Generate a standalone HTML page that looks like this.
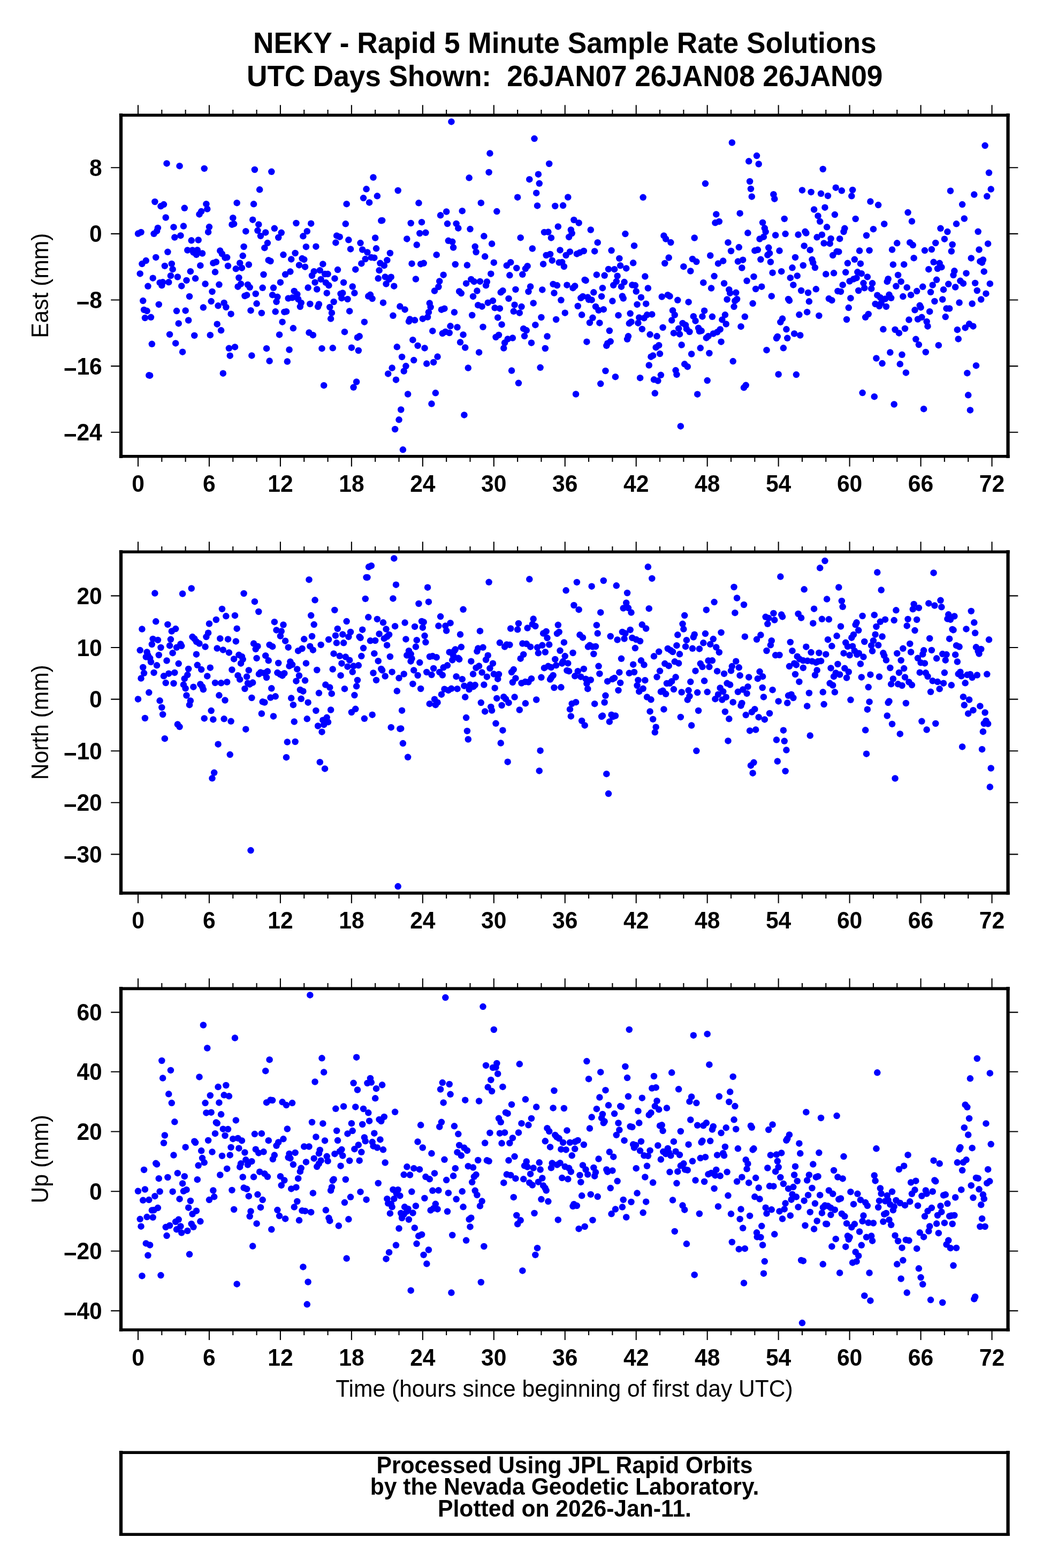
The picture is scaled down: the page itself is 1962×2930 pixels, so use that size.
<!DOCTYPE html>
<html lang="en">
<head>
<meta charset="utf-8">
<title>NEKY - Rapid 5 Minute Sample Rate Solutions</title>
<style>
html,body{margin:0;padding:0;background:#fff;}
svg{display:block;}
text{font-family:"Liberation Sans",sans-serif;fill:#000;}
.b{font-weight:bold;}
.fv{fill:none;stroke:#000;stroke-width:6.25;}
.fh{fill:none;stroke:#000;stroke-width:5.6;}
.tk{stroke:#000;stroke-width:2.1;stroke-linecap:butt;fill:none;}
.d circle{fill:#0000ff;}
</style>
</head>
<body>
<svg width="1962" height="2930" viewBox="0 0 1962 2930">
<rect x="0" y="0" width="1962" height="2930" fill="#ffffff"/>
<text class="b" font-size="53.25" text-anchor="middle" transform="translate(1055.25 99) scale(1 1.03)">NEKY - Rapid 5 Minute Sample Rate Solutions</text>
<text class="b" font-size="53.25" text-anchor="middle" transform="translate(1055.25 160.8) scale(1 1.03)" xml:space="preserve" textLength="1188.4" lengthAdjust="spacing">UTC Days Shown:  26JAN07 26JAN08 26JAN09</text>
<g id="panel1">
<path class="tk" d="M258 215.2V196.2M258 852.75V871.8M302.32 215.2V205M302.32 852.75V863M346.64 215.2V205M346.64 852.75V863M390.96 215.2V196.2M390.96 852.75V871.8M435.28 215.2V205M435.28 852.75V863M479.6 215.2V205M479.6 852.75V863M523.92 215.2V196.2M523.92 852.75V871.8M568.24 215.2V205M568.24 852.75V863M612.56 215.2V205M612.56 852.75V863M656.88 215.2V196.2M656.88 852.75V871.8M701.19 215.2V205M701.19 852.75V863M745.51 215.2V205M745.51 852.75V863M789.83 215.2V196.2M789.83 852.75V871.8M834.15 215.2V205M834.15 852.75V863M878.47 215.2V205M878.47 852.75V863M922.79 215.2V196.2M922.79 852.75V871.8M967.11 215.2V205M967.11 852.75V863M1011.43 215.2V205M1011.43 852.75V863M1055.75 215.2V196.2M1055.75 852.75V871.8M1100.07 215.2V205M1100.07 852.75V863M1144.39 215.2V205M1144.39 852.75V863M1188.71 215.2V196.2M1188.71 852.75V871.8M1233.03 215.2V205M1233.03 852.75V863M1277.35 215.2V205M1277.35 852.75V863M1321.67 215.2V196.2M1321.67 852.75V871.8M1365.99 215.2V205M1365.99 852.75V863M1410.31 215.2V205M1410.31 852.75V863M1454.62 215.2V196.2M1454.62 852.75V871.8M1498.94 215.2V205M1498.94 852.75V863M1543.26 215.2V205M1543.26 852.75V863M1587.58 215.2V196.2M1587.58 852.75V871.8M1631.9 215.2V205M1631.9 852.75V863M1676.22 215.2V205M1676.22 852.75V863M1720.54 215.2V196.2M1720.54 852.75V871.8M1764.86 215.2V205M1764.86 852.75V863M1809.18 215.2V205M1809.18 852.75V863M1853.5 215.2V196.2M1853.5 852.75V871.8M226 313.2h-18.8M1883.5 313.2h18.8M226 436.85h-18.8M1883.5 436.85h18.8M226 560.5h-18.8M1883.5 560.5h18.8M226 684.1h-18.8M1883.5 684.1h18.8M226 807.8h-18.8M1883.5 807.8h18.8"/>
<g class="d">
<circle cx="258" cy="436.6" r="6.25"/><circle cx="261.69" cy="511.4" r="6.25"/><circle cx="263.54" cy="433.9" r="6.25"/><circle cx="265.39" cy="493.1" r="6.25"/><circle cx="267.23" cy="562.1" r="6.25"/><circle cx="269.08" cy="578.9" r="6.25"/>
<circle cx="270.93" cy="594.1" r="6.25"/><circle cx="272.77" cy="487.1" r="6.25"/><circle cx="274.62" cy="581.1" r="6.25"/><circle cx="276.47" cy="534.8" r="6.25"/><circle cx="278.31" cy="701.3" r="6.25"/><circle cx="280.16" cy="701.7" r="6.25"/>
<circle cx="282.01" cy="592.8" r="6.25"/><circle cx="283.85" cy="642.8" r="6.25"/><circle cx="285.7" cy="519.7" r="6.25"/><circle cx="287.55" cy="436.8" r="6.25"/><circle cx="289.39" cy="377" r="6.25"/><circle cx="291.24" cy="480.9" r="6.25"/>
<circle cx="293.09" cy="431.7" r="6.25"/><circle cx="294.93" cy="425.9" r="6.25"/><circle cx="296.78" cy="568.9" r="6.25"/><circle cx="298.63" cy="528.2" r="6.25"/><circle cx="300.47" cy="385.3" r="6.25"/><circle cx="302.32" cy="533.3" r="6.25"/>
<circle cx="304.17" cy="527.3" r="6.25"/><circle cx="306.01" cy="382.1" r="6.25"/><circle cx="307.86" cy="496.9" r="6.25"/><circle cx="309.71" cy="406.5" r="6.25"/><circle cx="311.55" cy="305.4" r="6.25"/><circle cx="313.4" cy="470.8" r="6.25"/>
<circle cx="315.25" cy="527.3" r="6.25"/><circle cx="317.09" cy="624.9" r="6.25"/><circle cx="318.94" cy="515.2" r="6.25"/><circle cx="320.79" cy="492.9" r="6.25"/><circle cx="322.63" cy="503.2" r="6.25"/><circle cx="324.48" cy="424.4" r="6.25"/>
<circle cx="326.33" cy="443.6" r="6.25"/><circle cx="328.17" cy="641.4" r="6.25"/><circle cx="330.02" cy="581.1" r="6.25"/><circle cx="331.87" cy="517.5" r="6.25"/><circle cx="333.71" cy="604.4" r="6.25"/><circle cx="335.56" cy="310.2" r="6.25"/>
<circle cx="337.41" cy="440.2" r="6.25"/><circle cx="339.25" cy="534.4" r="6.25"/><circle cx="341.1" cy="657.7" r="6.25"/><circle cx="342.95" cy="422.6" r="6.25"/><circle cx="344.79" cy="388.8" r="6.25"/><circle cx="346.64" cy="580.4" r="6.25"/>
<circle cx="348.49" cy="523.9" r="6.25"/><circle cx="350.33" cy="467.5" r="6.25"/><circle cx="352.18" cy="598.5" r="6.25"/><circle cx="354.03" cy="553.9" r="6.25"/><circle cx="355.87" cy="507.2" r="6.25"/><circle cx="357.72" cy="449.3" r="6.25"/>
<circle cx="359.57" cy="467.5" r="6.25"/><circle cx="361.41" cy="471.7" r="6.25"/><circle cx="363.26" cy="626.9" r="6.25"/><circle cx="365.11" cy="520.3" r="6.25"/><circle cx="366.95" cy="475.9" r="6.25"/><circle cx="368.8" cy="467.2" r="6.25"/>
<circle cx="370.65" cy="448.5" r="6.25"/><circle cx="372.49" cy="400.4" r="6.25"/><circle cx="374.34" cy="496.2" r="6.25"/><circle cx="376.19" cy="395.1" r="6.25"/><circle cx="378.03" cy="473.5" r="6.25"/><circle cx="379.88" cy="574.6" r="6.25"/>
<circle cx="381.73" cy="314.9" r="6.25"/><circle cx="383.57" cy="530.6" r="6.25"/><circle cx="385.42" cy="381.2" r="6.25"/><circle cx="387.27" cy="390.6" r="6.25"/><circle cx="389.11" cy="433.7" r="6.25"/><circle cx="390.96" cy="424.1" r="6.25"/>
<circle cx="392.8" cy="626.2" r="6.25"/><circle cx="394.65" cy="563.1" r="6.25"/><circle cx="396.5" cy="544.9" r="6.25"/><circle cx="398.34" cy="491.6" r="6.25"/><circle cx="402.04" cy="508.3" r="6.25"/><circle cx="403.88" cy="489.6" r="6.25"/>
<circle cx="405.73" cy="605.7" r="6.25"/><circle cx="407.58" cy="571.3" r="6.25"/><circle cx="409.42" cy="531.8" r="6.25"/><circle cx="411.27" cy="468.6" r="6.25"/><circle cx="413.12" cy="617.3" r="6.25"/><circle cx="414.96" cy="474.4" r="6.25"/>
<circle cx="416.81" cy="697.7" r="6.25"/><circle cx="418.66" cy="566" r="6.25"/><circle cx="420.5" cy="481.7" r="6.25"/><circle cx="422.35" cy="574" r="6.25"/><circle cx="424.2" cy="481.1" r="6.25"/><circle cx="426.04" cy="496.9" r="6.25"/>
<circle cx="427.89" cy="650.8" r="6.25"/><circle cx="429.74" cy="664.7" r="6.25"/><circle cx="431.58" cy="586.7" r="6.25"/><circle cx="433.43" cy="419.7" r="6.25"/><circle cx="435.28" cy="407.2" r="6.25"/><circle cx="437.12" cy="418.3" r="6.25"/>
<circle cx="438.97" cy="648.4" r="6.25"/><circle cx="440.82" cy="502.3" r="6.25"/><circle cx="442.66" cy="379.2" r="6.25"/><circle cx="444.51" cy="535.7" r="6.25"/><circle cx="446.36" cy="519" r="6.25"/><circle cx="448.2" cy="491.5" r="6.25"/>
<circle cx="450.05" cy="530.6" r="6.25"/><circle cx="451.9" cy="500.7" r="6.25"/><circle cx="453.74" cy="478.1" r="6.25"/><circle cx="455.59" cy="461" r="6.25"/><circle cx="457.44" cy="553" r="6.25"/><circle cx="459.28" cy="432.2" r="6.25"/>
<circle cx="461.13" cy="551.4" r="6.25"/><circle cx="462.98" cy="532" r="6.25"/><circle cx="464.82" cy="494.5" r="6.25"/><circle cx="466.67" cy="536.9" r="6.25"/><circle cx="468.52" cy="580.2" r="6.25"/><circle cx="470.36" cy="664.4" r="6.25"/>
<circle cx="472.21" cy="410.7" r="6.25"/><circle cx="474.06" cy="381.3" r="6.25"/><circle cx="475.9" cy="317" r="6.25"/><circle cx="477.75" cy="549" r="6.25"/><circle cx="479.6" cy="567.3" r="6.25"/><circle cx="481.44" cy="430.8" r="6.25"/>
<circle cx="483.29" cy="419.4" r="6.25"/><circle cx="485.14" cy="354.3" r="6.25"/><circle cx="486.98" cy="440.9" r="6.25"/><circle cx="488.83" cy="584.9" r="6.25"/><circle cx="490.68" cy="537.8" r="6.25"/><circle cx="492.52" cy="513" r="6.25"/>
<circle cx="494.37" cy="463.2" r="6.25"/><circle cx="496.22" cy="434.4" r="6.25"/><circle cx="498.06" cy="651.2" r="6.25"/><circle cx="499.91" cy="454.1" r="6.25"/><circle cx="501.76" cy="486.2" r="6.25"/><circle cx="503.6" cy="674.6" r="6.25"/>
<circle cx="505.45" cy="488" r="6.25"/><circle cx="507.3" cy="320.8" r="6.25"/><circle cx="509.14" cy="551.2" r="6.25"/><circle cx="510.99" cy="537.8" r="6.25"/><circle cx="512.84" cy="426.8" r="6.25"/><circle cx="514.68" cy="582.3" r="6.25"/>
<circle cx="516.53" cy="563.9" r="6.25"/><circle cx="518.38" cy="554.8" r="6.25"/><circle cx="520.22" cy="443.8" r="6.25"/><circle cx="522.07" cy="625.4" r="6.25"/><circle cx="523.92" cy="527.7" r="6.25"/><circle cx="525.76" cy="434.8" r="6.25"/>
<circle cx="527.61" cy="601.7" r="6.25"/><circle cx="529.46" cy="476.1" r="6.25"/><circle cx="531.3" cy="582.9" r="6.25"/><circle cx="533.15" cy="512.8" r="6.25"/><circle cx="535" cy="582.2" r="6.25"/><circle cx="536.84" cy="675.6" r="6.25"/>
<circle cx="538.69" cy="557.5" r="6.25"/><circle cx="540.54" cy="653.5" r="6.25"/><circle cx="542.38" cy="507.6" r="6.25"/><circle cx="544.23" cy="484.4" r="6.25"/><circle cx="546.08" cy="556.3" r="6.25"/><circle cx="547.92" cy="613.3" r="6.25"/>
<circle cx="549.77" cy="543.9" r="6.25"/><circle cx="551.62" cy="473" r="6.25"/><circle cx="553.46" cy="417" r="6.25"/><circle cx="555.31" cy="549.9" r="6.25"/><circle cx="557.16" cy="559" r="6.25"/><circle cx="559" cy="495.4" r="6.25"/>
<circle cx="560.85" cy="573.1" r="6.25"/><circle cx="562.7" cy="565.9" r="6.25"/><circle cx="564.54" cy="483.1" r="6.25"/><circle cx="566.39" cy="441.3" r="6.25"/><circle cx="568.24" cy="484.9" r="6.25"/><circle cx="570.08" cy="498.7" r="6.25"/>
<circle cx="571.93" cy="461.2" r="6.25"/><circle cx="573.78" cy="432.2" r="6.25"/><circle cx="575.62" cy="537.6" r="6.25"/><circle cx="577.47" cy="621.6" r="6.25"/><circle cx="579.32" cy="568" r="6.25"/><circle cx="581.16" cy="417.7" r="6.25"/>
<circle cx="583.01" cy="515" r="6.25"/><circle cx="584.86" cy="626.2" r="6.25"/><circle cx="586.7" cy="507.2" r="6.25"/><circle cx="588.55" cy="527.7" r="6.25"/><circle cx="590.4" cy="460.7" r="6.25"/><circle cx="592.24" cy="540.5" r="6.25"/>
<circle cx="594.09" cy="573.1" r="6.25"/><circle cx="595.94" cy="568.4" r="6.25"/><circle cx="597.78" cy="505.2" r="6.25"/><circle cx="599.63" cy="521.9" r="6.25"/><circle cx="601.48" cy="651.2" r="6.25"/><circle cx="603.32" cy="493.4" r="6.25"/>
<circle cx="605.17" cy="720.2" r="6.25"/><circle cx="607.02" cy="512.1" r="6.25"/><circle cx="608.86" cy="528.2" r="6.25"/><circle cx="610.71" cy="547.7" r="6.25"/><circle cx="612.56" cy="512.1" r="6.25"/><circle cx="614.4" cy="533.3" r="6.25"/>
<circle cx="616.25" cy="574" r="6.25"/><circle cx="618.1" cy="595.6" r="6.25"/><circle cx="619.94" cy="584.7" r="6.25"/><circle cx="621.79" cy="650.3" r="6.25"/><circle cx="623.64" cy="564" r="6.25"/><circle cx="625.48" cy="520.4" r="6.25"/>
<circle cx="627.33" cy="453.4" r="6.25"/><circle cx="629.18" cy="440.4" r="6.25"/><circle cx="631.02" cy="504.1" r="6.25"/><circle cx="634.72" cy="442.7" r="6.25"/><circle cx="636.56" cy="549" r="6.25"/><circle cx="638.41" cy="557.2" r="6.25"/>
<circle cx="640.26" cy="547.6" r="6.25"/><circle cx="642.1" cy="527.9" r="6.25"/><circle cx="643.95" cy="620.2" r="6.25"/><circle cx="645.8" cy="418.3" r="6.25"/><circle cx="647.64" cy="381.2" r="6.25"/><circle cx="649.49" cy="559" r="6.25"/>
<circle cx="651.34" cy="448.3" r="6.25"/><circle cx="653.18" cy="581.4" r="6.25"/><circle cx="655.03" cy="465.4" r="6.25"/><circle cx="656.88" cy="649.7" r="6.25"/><circle cx="658.72" cy="535.5" r="6.25"/><circle cx="660.57" cy="723.8" r="6.25"/>
<circle cx="662.41" cy="547.6" r="6.25"/><circle cx="664.26" cy="503.4" r="6.25"/><circle cx="666.11" cy="713.5" r="6.25"/><circle cx="667.95" cy="630.7" r="6.25"/><circle cx="669.8" cy="655" r="6.25"/><circle cx="671.65" cy="628.3" r="6.25"/>
<circle cx="673.49" cy="454.1" r="6.25"/><circle cx="675.34" cy="492.4" r="6.25"/><circle cx="677.19" cy="466.5" r="6.25"/><circle cx="679.03" cy="370.1" r="6.25"/><circle cx="680.88" cy="601.7" r="6.25"/><circle cx="682.73" cy="484" r="6.25"/>
<circle cx="684.57" cy="353.3" r="6.25"/><circle cx="686.42" cy="471.5" r="6.25"/><circle cx="688.27" cy="553.5" r="6.25"/><circle cx="690.11" cy="378.4" r="6.25"/><circle cx="691.96" cy="550.8" r="6.25"/><circle cx="693.81" cy="481.1" r="6.25"/>
<circle cx="695.65" cy="558.1" r="6.25"/><circle cx="697.5" cy="331.5" r="6.25"/><circle cx="699.35" cy="481.7" r="6.25"/><circle cx="701.19" cy="444.5" r="6.25"/><circle cx="703.04" cy="464.3" r="6.25"/><circle cx="704.89" cy="366.3" r="6.25"/>
<circle cx="706.73" cy="520.3" r="6.25"/><circle cx="708.58" cy="505.2" r="6.25"/><circle cx="710.43" cy="491.8" r="6.25"/><circle cx="712.27" cy="412.3" r="6.25"/><circle cx="714.12" cy="411.9" r="6.25"/><circle cx="715.97" cy="565.7" r="6.25"/>
<circle cx="717.81" cy="496.2" r="6.25"/><circle cx="719.66" cy="517.4" r="6.25"/><circle cx="721.51" cy="530.6" r="6.25"/><circle cx="723.35" cy="486.2" r="6.25"/><circle cx="725.2" cy="698.4" r="6.25"/><circle cx="727.05" cy="521.9" r="6.25"/>
<circle cx="728.89" cy="473" r="6.25"/><circle cx="730.74" cy="517.7" r="6.25"/><circle cx="732.59" cy="687.6" r="6.25"/><circle cx="734.43" cy="589.8" r="6.25"/><circle cx="736.28" cy="534.7" r="6.25"/><circle cx="738.13" cy="802" r="6.25"/>
<circle cx="739.97" cy="709.7" r="6.25"/><circle cx="741.82" cy="648.3" r="6.25"/><circle cx="743.67" cy="356" r="6.25"/><circle cx="745.51" cy="784.3" r="6.25"/><circle cx="747.36" cy="572.6" r="6.25"/><circle cx="749.21" cy="765.5" r="6.25"/>
<circle cx="751.05" cy="666.9" r="6.25"/><circle cx="752.9" cy="840.3" r="6.25"/><circle cx="754.75" cy="693.5" r="6.25"/><circle cx="756.59" cy="578.4" r="6.25"/><circle cx="758.44" cy="684.1" r="6.25"/><circle cx="760.29" cy="446.4" r="6.25"/>
<circle cx="762.13" cy="736.5" r="6.25"/><circle cx="763.98" cy="600.6" r="6.25"/><circle cx="765.83" cy="596.5" r="6.25"/><circle cx="767.67" cy="417" r="6.25"/><circle cx="769.52" cy="492.7" r="6.25"/><circle cx="771.37" cy="635.2" r="6.25"/>
<circle cx="773.21" cy="673.1" r="6.25"/><circle cx="775.06" cy="598.3" r="6.25"/><circle cx="776.91" cy="521.5" r="6.25"/><circle cx="778.75" cy="457.6" r="6.25"/><circle cx="780.6" cy="645.9" r="6.25"/><circle cx="782.45" cy="379.3" r="6.25"/>
<circle cx="784.29" cy="436" r="6.25"/><circle cx="786.14" cy="493.4" r="6.25"/><circle cx="787.99" cy="415.2" r="6.25"/><circle cx="789.83" cy="595.7" r="6.25"/><circle cx="791.68" cy="491.8" r="6.25"/><circle cx="793.53" cy="650.4" r="6.25"/>
<circle cx="795.37" cy="434.8" r="6.25"/><circle cx="797.22" cy="679.6" r="6.25"/><circle cx="799.07" cy="592.5" r="6.25"/><circle cx="800.91" cy="583.4" r="6.25"/><circle cx="802.76" cy="566.6" r="6.25"/><circle cx="804.61" cy="573.8" r="6.25"/>
<circle cx="806.45" cy="754.6" r="6.25"/><circle cx="808.3" cy="618.4" r="6.25"/><circle cx="810.15" cy="676.9" r="6.25"/><circle cx="811.99" cy="543.6" r="6.25"/><circle cx="813.84" cy="734.3" r="6.25"/><circle cx="815.69" cy="476.2" r="6.25"/>
<circle cx="817.53" cy="666.6" r="6.25"/><circle cx="819.38" cy="536" r="6.25"/><circle cx="821.23" cy="525.5" r="6.25"/><circle cx="823.07" cy="402.3" r="6.25"/><circle cx="824.92" cy="578.7" r="6.25"/><circle cx="826.77" cy="623.1" r="6.25"/>
<circle cx="828.61" cy="513.7" r="6.25"/><circle cx="830.46" cy="576.7" r="6.25"/><circle cx="832.31" cy="620" r="6.25"/><circle cx="834.15" cy="395.5" r="6.25"/><circle cx="836" cy="418.1" r="6.25"/><circle cx="837.85" cy="449.8" r="6.25"/>
<circle cx="839.69" cy="622" r="6.25"/><circle cx="841.54" cy="609.3" r="6.25"/><circle cx="843.39" cy="227.4" r="6.25"/><circle cx="845.23" cy="451.8" r="6.25"/><circle cx="847.08" cy="462.5" r="6.25"/><circle cx="848.93" cy="583.6" r="6.25"/>
<circle cx="850.77" cy="494" r="6.25"/><circle cx="852.62" cy="417.9" r="6.25"/><circle cx="854.47" cy="611.5" r="6.25"/><circle cx="856.31" cy="426.4" r="6.25"/><circle cx="858.16" cy="544.5" r="6.25"/><circle cx="860.01" cy="639.6" r="6.25"/>
<circle cx="861.85" cy="548.1" r="6.25"/><circle cx="863.7" cy="394.2" r="6.25"/><circle cx="865.55" cy="625.4" r="6.25"/><circle cx="867.39" cy="775.4" r="6.25"/><circle cx="869.24" cy="649.5" r="6.25"/><circle cx="871.09" cy="529.7" r="6.25"/>
<circle cx="872.93" cy="495.6" r="6.25"/><circle cx="874.78" cy="687.6" r="6.25"/><circle cx="876.63" cy="332.3" r="6.25"/><circle cx="878.47" cy="428.1" r="6.25"/><circle cx="880.32" cy="521.9" r="6.25"/><circle cx="882.17" cy="589" r="6.25"/>
<circle cx="884.01" cy="553.9" r="6.25"/><circle cx="885.86" cy="526.2" r="6.25"/><circle cx="887.71" cy="460.8" r="6.25"/><circle cx="889.55" cy="471" r="6.25"/><circle cx="891.4" cy="543.6" r="6.25"/><circle cx="893.25" cy="570.2" r="6.25"/>
<circle cx="895.09" cy="658.4" r="6.25"/><circle cx="896.94" cy="525.9" r="6.25"/><circle cx="898.79" cy="379.2" r="6.25"/><circle cx="900.63" cy="572.7" r="6.25"/><circle cx="902.48" cy="611" r="6.25"/><circle cx="904.33" cy="441.3" r="6.25"/>
<circle cx="906.17" cy="479.3" r="6.25"/><circle cx="908.02" cy="533.3" r="6.25"/><circle cx="909.87" cy="526.6" r="6.25"/><circle cx="911.71" cy="565.7" r="6.25"/><circle cx="913.56" cy="321.9" r="6.25"/><circle cx="915.41" cy="286.6" r="6.25"/>
<circle cx="917.25" cy="511.7" r="6.25"/><circle cx="919.1" cy="455.6" r="6.25"/><circle cx="920.95" cy="562.1" r="6.25"/><circle cx="922.79" cy="490.7" r="6.25"/><circle cx="924.64" cy="575.3" r="6.25"/><circle cx="926.48" cy="630" r="6.25"/>
<circle cx="928.33" cy="395.1" r="6.25"/><circle cx="930.18" cy="593.4" r="6.25"/><circle cx="932.02" cy="626" r="6.25"/><circle cx="933.87" cy="576.4" r="6.25"/><circle cx="935.72" cy="546.3" r="6.25"/><circle cx="937.56" cy="606.4" r="6.25"/>
<circle cx="939.41" cy="543.2" r="6.25"/><circle cx="941.26" cy="650.6" r="6.25"/><circle cx="943.1" cy="640.5" r="6.25"/><circle cx="946.8" cy="496.2" r="6.25"/><circle cx="948.64" cy="633.6" r="6.25"/><circle cx="950.49" cy="557.9" r="6.25"/>
<circle cx="952.34" cy="514.3" r="6.25"/><circle cx="954.18" cy="490.2" r="6.25"/><circle cx="956.03" cy="692.6" r="6.25"/><circle cx="957.88" cy="631.6" r="6.25"/><circle cx="959.72" cy="581.8" r="6.25"/><circle cx="961.57" cy="569.7" r="6.25"/>
<circle cx="963.42" cy="540.9" r="6.25"/><circle cx="965.26" cy="500.9" r="6.25"/><circle cx="967.11" cy="368.7" r="6.25"/><circle cx="968.96" cy="715.8" r="6.25"/><circle cx="970.8" cy="584.7" r="6.25"/><circle cx="972.65" cy="444.2" r="6.25"/>
<circle cx="974.5" cy="573.1" r="6.25"/><circle cx="976.34" cy="512.8" r="6.25"/><circle cx="978.19" cy="614.2" r="6.25"/><circle cx="980.04" cy="628" r="6.25"/><circle cx="981.88" cy="502.1" r="6.25"/><circle cx="983.73" cy="617.3" r="6.25"/>
<circle cx="985.58" cy="497.2" r="6.25"/><circle cx="987.42" cy="544.9" r="6.25"/><circle cx="989.27" cy="335.2" r="6.25"/><circle cx="991.12" cy="535.5" r="6.25"/><circle cx="992.96" cy="640.7" r="6.25"/><circle cx="994.81" cy="464.5" r="6.25"/>
<circle cx="996.66" cy="566.4" r="6.25"/><circle cx="998.5" cy="259.1" r="6.25"/><circle cx="1000.35" cy="607.2" r="6.25"/><circle cx="1002.2" cy="360.7" r="6.25"/><circle cx="1004.04" cy="384.4" r="6.25"/><circle cx="1005.89" cy="325.7" r="6.25"/>
<circle cx="1007.74" cy="342.8" r="6.25"/><circle cx="1009.58" cy="686.8" r="6.25"/><circle cx="1011.43" cy="593" r="6.25"/><circle cx="1013.28" cy="541.4" r="6.25"/><circle cx="1015.12" cy="493.4" r="6.25"/><circle cx="1016.97" cy="433.9" r="6.25"/>
<circle cx="1018.82" cy="651" r="6.25"/><circle cx="1020.66" cy="477" r="6.25"/><circle cx="1022.51" cy="628.5" r="6.25"/><circle cx="1024.36" cy="433.5" r="6.25"/><circle cx="1026.2" cy="306" r="6.25"/><circle cx="1028.05" cy="475" r="6.25"/>
<circle cx="1029.9" cy="444.4" r="6.25"/><circle cx="1031.74" cy="486.7" r="6.25"/><circle cx="1033.59" cy="530.9" r="6.25"/><circle cx="1035.44" cy="547.6" r="6.25"/><circle cx="1037.28" cy="385" r="6.25"/><circle cx="1039.13" cy="597" r="6.25"/>
<circle cx="1040.98" cy="533.3" r="6.25"/><circle cx="1042.82" cy="423.4" r="6.25"/><circle cx="1044.67" cy="490.5" r="6.25"/><circle cx="1046.52" cy="467.4" r="6.25"/><circle cx="1048.36" cy="560.8" r="6.25"/><circle cx="1050.21" cy="490" r="6.25"/>
<circle cx="1052.06" cy="384.1" r="6.25"/><circle cx="1053.9" cy="498" r="6.25"/><circle cx="1055.75" cy="584.7" r="6.25"/><circle cx="1057.6" cy="477" r="6.25"/><circle cx="1059.44" cy="532.7" r="6.25"/><circle cx="1061.29" cy="368.5" r="6.25"/>
<circle cx="1063.14" cy="442.9" r="6.25"/><circle cx="1064.98" cy="470.4" r="6.25"/><circle cx="1066.83" cy="429.5" r="6.25"/><circle cx="1068.68" cy="436" r="6.25"/><circle cx="1070.52" cy="538.2" r="6.25"/><circle cx="1072.37" cy="411" r="6.25"/>
<circle cx="1074.22" cy="534.5" r="6.25"/><circle cx="1076.06" cy="736.5" r="6.25"/><circle cx="1077.91" cy="474.4" r="6.25"/><circle cx="1079.76" cy="572" r="6.25"/><circle cx="1081.6" cy="416.5" r="6.25"/><circle cx="1083.45" cy="471.9" r="6.25"/>
<circle cx="1085.3" cy="556.8" r="6.25"/><circle cx="1087.14" cy="588.3" r="6.25"/><circle cx="1088.99" cy="553.9" r="6.25"/><circle cx="1090.84" cy="469" r="6.25"/><circle cx="1092.68" cy="523" r="6.25"/><circle cx="1094.53" cy="524.2" r="6.25"/>
<circle cx="1096.38" cy="638.7" r="6.25"/><circle cx="1098.22" cy="555.4" r="6.25"/><circle cx="1100.07" cy="559.9" r="6.25"/><circle cx="1101.92" cy="603" r="6.25"/><circle cx="1103.76" cy="429.5" r="6.25"/><circle cx="1105.61" cy="560.4" r="6.25"/>
<circle cx="1107.46" cy="593.8" r="6.25"/><circle cx="1109.3" cy="546.3" r="6.25"/><circle cx="1111.15" cy="469.4" r="6.25"/><circle cx="1113" cy="572.9" r="6.25"/><circle cx="1114.84" cy="513.4" r="6.25"/><circle cx="1116.69" cy="453.2" r="6.25"/>
<circle cx="1118.54" cy="579.8" r="6.25"/><circle cx="1120.38" cy="603.4" r="6.25"/><circle cx="1122.23" cy="717.1" r="6.25"/><circle cx="1124.08" cy="553.9" r="6.25"/><circle cx="1125.92" cy="538.2" r="6.25"/><circle cx="1127.77" cy="578.2" r="6.25"/>
<circle cx="1129.62" cy="514.8" r="6.25"/><circle cx="1131.46" cy="693" r="6.25"/><circle cx="1133.31" cy="645.9" r="6.25"/><circle cx="1135.16" cy="641.7" r="6.25"/><circle cx="1137" cy="502.9" r="6.25"/><circle cx="1138.85" cy="618" r="6.25"/>
<circle cx="1140.7" cy="638.1" r="6.25"/><circle cx="1142.54" cy="468.1" r="6.25"/><circle cx="1144.39" cy="562.6" r="6.25"/><circle cx="1146.24" cy="532.9" r="6.25"/><circle cx="1148.08" cy="503.2" r="6.25"/><circle cx="1149.93" cy="704.2" r="6.25"/>
<circle cx="1151.78" cy="526" r="6.25"/><circle cx="1153.62" cy="515.7" r="6.25"/><circle cx="1155.47" cy="589.2" r="6.25"/><circle cx="1157.32" cy="482.9" r="6.25"/><circle cx="1159.16" cy="496.3" r="6.25"/><circle cx="1161.01" cy="535.7" r="6.25"/>
<circle cx="1162.86" cy="553.5" r="6.25"/><circle cx="1164.7" cy="557.5" r="6.25"/><circle cx="1166.55" cy="527.1" r="6.25"/><circle cx="1168.4" cy="437.1" r="6.25"/><circle cx="1170.24" cy="501.4" r="6.25"/><circle cx="1172.09" cy="633.8" r="6.25"/>
<circle cx="1173.94" cy="628.3" r="6.25"/><circle cx="1175.78" cy="604.3" r="6.25"/><circle cx="1177.63" cy="585.8" r="6.25"/><circle cx="1179.48" cy="601.5" r="6.25"/><circle cx="1181.32" cy="532.6" r="6.25"/><circle cx="1183.17" cy="491.3" r="6.25"/>
<circle cx="1185.02" cy="459.2" r="6.25"/><circle cx="1186.86" cy="533.3" r="6.25"/><circle cx="1188.71" cy="544.5" r="6.25"/><circle cx="1190.55" cy="568.9" r="6.25"/><circle cx="1192.4" cy="603.7" r="6.25"/><circle cx="1194.25" cy="593.4" r="6.25"/>
<circle cx="1196.09" cy="706.2" r="6.25"/><circle cx="1197.94" cy="555.7" r="6.25"/><circle cx="1199.79" cy="614.9" r="6.25"/><circle cx="1201.63" cy="368.8" r="6.25"/><circle cx="1203.48" cy="594.3" r="6.25"/><circle cx="1205.33" cy="516.6" r="6.25"/>
<circle cx="1207.17" cy="567.7" r="6.25"/><circle cx="1209.02" cy="588.3" r="6.25"/><circle cx="1210.87" cy="538.5" r="6.25"/><circle cx="1212.71" cy="682.5" r="6.25"/><circle cx="1214.56" cy="625.1" r="6.25"/><circle cx="1216.41" cy="666.7" r="6.25"/>
<circle cx="1218.25" cy="587.4" r="6.25"/><circle cx="1220.1" cy="664.4" r="6.25"/><circle cx="1221.95" cy="709.3" r="6.25"/><circle cx="1223.79" cy="734.8" r="6.25"/><circle cx="1225.64" cy="649.2" r="6.25"/><circle cx="1227.49" cy="628.3" r="6.25"/>
<circle cx="1229.33" cy="711.5" r="6.25"/><circle cx="1231.18" cy="645.2" r="6.25"/><circle cx="1233.03" cy="661.1" r="6.25"/><circle cx="1234.87" cy="700.8" r="6.25"/><circle cx="1236.72" cy="554.5" r="6.25"/><circle cx="1238.57" cy="612" r="6.25"/>
<circle cx="1240.41" cy="440.4" r="6.25"/><circle cx="1242.26" cy="492" r="6.25"/><circle cx="1244.11" cy="446.5" r="6.25"/><circle cx="1247.8" cy="551.2" r="6.25"/><circle cx="1249.65" cy="481.5" r="6.25"/><circle cx="1251.49" cy="553.5" r="6.25"/>
<circle cx="1253.34" cy="453.1" r="6.25"/><circle cx="1255.19" cy="598.6" r="6.25"/><circle cx="1257.03" cy="580.2" r="6.25"/><circle cx="1258.88" cy="622.4" r="6.25"/><circle cx="1260.73" cy="588.5" r="6.25"/><circle cx="1262.57" cy="692.1" r="6.25"/>
<circle cx="1264.42" cy="699.9" r="6.25"/><circle cx="1266.27" cy="560.8" r="6.25"/><circle cx="1268.11" cy="613.9" r="6.25"/><circle cx="1269.96" cy="624.4" r="6.25"/><circle cx="1271.81" cy="796.4" r="6.25"/><circle cx="1273.65" cy="644.6" r="6.25"/>
<circle cx="1275.5" cy="603.9" r="6.25"/><circle cx="1277.35" cy="498.2" r="6.25"/><circle cx="1279.19" cy="680.3" r="6.25"/><circle cx="1281.04" cy="607.5" r="6.25"/><circle cx="1282.89" cy="614.6" r="6.25"/><circle cx="1284.73" cy="685.2" r="6.25"/>
<circle cx="1286.58" cy="564.4" r="6.25"/><circle cx="1288.43" cy="620" r="6.25"/><circle cx="1290.27" cy="506.5" r="6.25"/><circle cx="1292.12" cy="661.5" r="6.25"/><circle cx="1293.97" cy="484" r="6.25"/><circle cx="1295.81" cy="591.2" r="6.25"/>
<circle cx="1297.66" cy="444.5" r="6.25"/><circle cx="1299.51" cy="599.7" r="6.25"/><circle cx="1301.35" cy="489.1" r="6.25"/><circle cx="1303.2" cy="736.7" r="6.25"/><circle cx="1305.05" cy="613" r="6.25"/><circle cx="1306.89" cy="619.1" r="6.25"/>
<circle cx="1308.74" cy="650.3" r="6.25"/><circle cx="1310.59" cy="618.2" r="6.25"/><circle cx="1312.43" cy="591.4" r="6.25"/><circle cx="1314.28" cy="528.2" r="6.25"/><circle cx="1316.13" cy="580.7" r="6.25"/><circle cx="1317.97" cy="343.1" r="6.25"/>
<circle cx="1319.82" cy="631.4" r="6.25"/><circle cx="1321.67" cy="711.1" r="6.25"/><circle cx="1323.51" cy="628.2" r="6.25"/><circle cx="1325.36" cy="660" r="6.25"/><circle cx="1327.21" cy="477.5" r="6.25"/><circle cx="1329.05" cy="538.6" r="6.25"/>
<circle cx="1330.9" cy="591.8" r="6.25"/><circle cx="1332.75" cy="623.6" r="6.25"/><circle cx="1334.59" cy="516.1" r="6.25"/><circle cx="1336.44" cy="416.3" r="6.25"/><circle cx="1338.29" cy="400.4" r="6.25"/><circle cx="1340.13" cy="620.6" r="6.25"/>
<circle cx="1341.98" cy="492.4" r="6.25"/><circle cx="1343.83" cy="413.9" r="6.25"/><circle cx="1345.67" cy="615.5" r="6.25"/><circle cx="1347.52" cy="638.7" r="6.25"/><circle cx="1349.37" cy="597.4" r="6.25"/><circle cx="1351.21" cy="487.6" r="6.25"/>
<circle cx="1353.06" cy="529.5" r="6.25"/><circle cx="1354.91" cy="588.3" r="6.25"/><circle cx="1356.75" cy="605.5" r="6.25"/><circle cx="1358.6" cy="559.5" r="6.25"/><circle cx="1360.45" cy="453.2" r="6.25"/><circle cx="1362.29" cy="541.2" r="6.25"/>
<circle cx="1364.14" cy="547.7" r="6.25"/><circle cx="1365.99" cy="469" r="6.25"/><circle cx="1367.83" cy="266.5" r="6.25"/><circle cx="1369.68" cy="675.1" r="6.25"/><circle cx="1371.53" cy="573.1" r="6.25"/><circle cx="1373.37" cy="562.2" r="6.25"/>
<circle cx="1375.22" cy="546.8" r="6.25"/><circle cx="1377.07" cy="559" r="6.25"/><circle cx="1378.91" cy="488.6" r="6.25"/><circle cx="1380.76" cy="462.1" r="6.25"/><circle cx="1382.61" cy="398.7" r="6.25"/><circle cx="1384.45" cy="610.2" r="6.25"/>
<circle cx="1386.3" cy="500.5" r="6.25"/><circle cx="1388.15" cy="485.7" r="6.25"/><circle cx="1389.99" cy="724.3" r="6.25"/><circle cx="1391.84" cy="591.8" r="6.25"/><circle cx="1393.69" cy="719.8" r="6.25"/><circle cx="1395.53" cy="524.8" r="6.25"/>
<circle cx="1397.38" cy="435.3" r="6.25"/><circle cx="1399.23" cy="301.3" r="6.25"/><circle cx="1401.07" cy="339" r="6.25"/><circle cx="1402.92" cy="352.9" r="6.25"/><circle cx="1404.77" cy="367.4" r="6.25"/><circle cx="1406.61" cy="567.1" r="6.25"/>
<circle cx="1408.46" cy="517" r="6.25"/><circle cx="1410.31" cy="468.3" r="6.25"/><circle cx="1412.15" cy="540" r="6.25"/><circle cx="1414" cy="291.1" r="6.25"/><circle cx="1415.85" cy="466.8" r="6.25"/><circle cx="1417.69" cy="306.5" r="6.25"/>
<circle cx="1419.54" cy="446.5" r="6.25"/><circle cx="1421.39" cy="484.8" r="6.25"/><circle cx="1423.23" cy="535.7" r="6.25"/><circle cx="1425.08" cy="415.9" r="6.25"/><circle cx="1426.93" cy="442.7" r="6.25"/><circle cx="1428.77" cy="426.3" r="6.25"/>
<circle cx="1430.62" cy="433.1" r="6.25"/><circle cx="1432.47" cy="654.2" r="6.25"/><circle cx="1434.31" cy="476.6" r="6.25"/><circle cx="1436.16" cy="462.8" r="6.25"/><circle cx="1438.01" cy="473.2" r="6.25"/><circle cx="1439.85" cy="489.5" r="6.25"/>
<circle cx="1441.7" cy="553.4" r="6.25"/><circle cx="1443.55" cy="509.7" r="6.25"/><circle cx="1445.39" cy="363.2" r="6.25"/><circle cx="1447.24" cy="371.7" r="6.25"/><circle cx="1449.09" cy="439.5" r="6.25"/><circle cx="1450.93" cy="632" r="6.25"/>
<circle cx="1452.78" cy="628.9" r="6.25"/><circle cx="1454.62" cy="699.5" r="6.25"/><circle cx="1456.47" cy="468.6" r="6.25"/><circle cx="1458.32" cy="601.9" r="6.25"/><circle cx="1460.16" cy="507.2" r="6.25"/><circle cx="1462.01" cy="595.6" r="6.25"/>
<circle cx="1463.86" cy="650.3" r="6.25"/><circle cx="1465.7" cy="408.9" r="6.25"/><circle cx="1467.55" cy="437.1" r="6.25"/><circle cx="1469.4" cy="615.3" r="6.25"/><circle cx="1471.24" cy="631.8" r="6.25"/><circle cx="1473.09" cy="559" r="6.25"/>
<circle cx="1474.94" cy="561.7" r="6.25"/><circle cx="1476.78" cy="519.2" r="6.25"/><circle cx="1480.48" cy="500.3" r="6.25"/><circle cx="1482.32" cy="532.4" r="6.25"/><circle cx="1484.17" cy="623.5" r="6.25"/><circle cx="1486.02" cy="480.9" r="6.25"/>
<circle cx="1487.86" cy="700.1" r="6.25"/><circle cx="1489.71" cy="515.4" r="6.25"/><circle cx="1491.56" cy="438.6" r="6.25"/><circle cx="1493.4" cy="588.1" r="6.25"/><circle cx="1495.25" cy="626.5" r="6.25"/><circle cx="1497.1" cy="543" r="6.25"/>
<circle cx="1498.94" cy="355.4" r="6.25"/><circle cx="1500.79" cy="496" r="6.25"/><circle cx="1502.64" cy="459.4" r="6.25"/><circle cx="1504.48" cy="432.8" r="6.25"/><circle cx="1506.33" cy="435.5" r="6.25"/><circle cx="1508.18" cy="583.2" r="6.25"/>
<circle cx="1510.02" cy="547" r="6.25"/><circle cx="1511.87" cy="563.3" r="6.25"/><circle cx="1513.72" cy="467.2" r="6.25"/><circle cx="1515.56" cy="358.9" r="6.25"/><circle cx="1517.41" cy="485.1" r="6.25"/><circle cx="1519.26" cy="490.9" r="6.25"/>
<circle cx="1521.1" cy="391.5" r="6.25"/><circle cx="1522.95" cy="500.1" r="6.25"/><circle cx="1524.8" cy="540.3" r="6.25"/><circle cx="1526.64" cy="443.3" r="6.25"/><circle cx="1528.49" cy="403.4" r="6.25"/><circle cx="1530.34" cy="589.9" r="6.25"/>
<circle cx="1532.18" cy="413.8" r="6.25"/><circle cx="1534.03" cy="361.8" r="6.25"/><circle cx="1535.88" cy="438.7" r="6.25"/><circle cx="1537.72" cy="316" r="6.25"/><circle cx="1539.57" cy="454.5" r="6.25"/><circle cx="1541.42" cy="387.7" r="6.25"/>
<circle cx="1543.26" cy="512.3" r="6.25"/><circle cx="1545.11" cy="424.3" r="6.25"/><circle cx="1546.96" cy="365.9" r="6.25"/><circle cx="1548.8" cy="558.1" r="6.25"/><circle cx="1550.65" cy="455.2" r="6.25"/><circle cx="1552.5" cy="446" r="6.25"/>
<circle cx="1554.34" cy="561.2" r="6.25"/><circle cx="1556.19" cy="477.1" r="6.25"/><circle cx="1558.04" cy="510.3" r="6.25"/><circle cx="1559.88" cy="401.1" r="6.25"/><circle cx="1561.73" cy="350.7" r="6.25"/><circle cx="1563.58" cy="470.1" r="6.25"/>
<circle cx="1565.42" cy="543.9" r="6.25"/><circle cx="1567.27" cy="470.4" r="6.25"/><circle cx="1569.12" cy="446.2" r="6.25"/><circle cx="1570.96" cy="544.9" r="6.25"/><circle cx="1572.81" cy="356.3" r="6.25"/><circle cx="1574.66" cy="532.4" r="6.25"/>
<circle cx="1576.5" cy="433" r="6.25"/><circle cx="1578.35" cy="426.8" r="6.25"/><circle cx="1580.2" cy="508.8" r="6.25"/><circle cx="1582.04" cy="597" r="6.25"/><circle cx="1583.89" cy="491.8" r="6.25"/><circle cx="1585.74" cy="575.1" r="6.25"/>
<circle cx="1587.58" cy="525.5" r="6.25"/><circle cx="1589.43" cy="557.2" r="6.25"/><circle cx="1591.28" cy="366.3" r="6.25"/><circle cx="1593.12" cy="354.9" r="6.25"/><circle cx="1594.97" cy="521.5" r="6.25"/><circle cx="1596.82" cy="484.8" r="6.25"/>
<circle cx="1598.66" cy="409" r="6.25"/><circle cx="1600.51" cy="519.3" r="6.25"/><circle cx="1602.36" cy="508.3" r="6.25"/><circle cx="1604.2" cy="543" r="6.25"/><circle cx="1606.05" cy="468.6" r="6.25"/><circle cx="1607.9" cy="492.7" r="6.25"/>
<circle cx="1609.74" cy="511.2" r="6.25"/><circle cx="1611.59" cy="734.1" r="6.25"/><circle cx="1613.44" cy="529.1" r="6.25"/><circle cx="1615.28" cy="538.2" r="6.25"/><circle cx="1617.13" cy="592.8" r="6.25"/><circle cx="1618.98" cy="440" r="6.25"/>
<circle cx="1620.82" cy="517.4" r="6.25"/><circle cx="1622.67" cy="586.9" r="6.25"/><circle cx="1624.52" cy="467.9" r="6.25"/><circle cx="1626.36" cy="376.6" r="6.25"/><circle cx="1628.21" cy="539.4" r="6.25"/><circle cx="1630.06" cy="529.3" r="6.25"/>
<circle cx="1631.9" cy="428.2" r="6.25"/><circle cx="1633.75" cy="741.2" r="6.25"/><circle cx="1635.6" cy="568" r="6.25"/><circle cx="1637.44" cy="669.5" r="6.25"/><circle cx="1639.29" cy="551.7" r="6.25"/><circle cx="1641.14" cy="383.1" r="6.25"/>
<circle cx="1642.98" cy="572" r="6.25"/><circle cx="1644.83" cy="555.9" r="6.25"/><circle cx="1646.68" cy="566.2" r="6.25"/><circle cx="1648.52" cy="679.1" r="6.25"/><circle cx="1650.37" cy="615.3" r="6.25"/><circle cx="1652.22" cy="418.5" r="6.25"/>
<circle cx="1654.06" cy="558.6" r="6.25"/><circle cx="1655.91" cy="572.9" r="6.25"/><circle cx="1657.76" cy="526.2" r="6.25"/><circle cx="1659.6" cy="521.2" r="6.25"/><circle cx="1661.45" cy="550.8" r="6.25"/><circle cx="1663.3" cy="658.6" r="6.25"/>
<circle cx="1665.14" cy="556.8" r="6.25"/><circle cx="1666.99" cy="466.6" r="6.25"/><circle cx="1668.84" cy="494.4" r="6.25"/><circle cx="1670.68" cy="755.5" r="6.25"/><circle cx="1672.53" cy="616" r="6.25"/><circle cx="1674.38" cy="534.8" r="6.25"/>
<circle cx="1676.22" cy="454.3" r="6.25"/><circle cx="1678.07" cy="513.9" r="6.25"/><circle cx="1679.92" cy="622.4" r="6.25"/><circle cx="1681.76" cy="680.3" r="6.25"/><circle cx="1683.61" cy="526.2" r="6.25"/><circle cx="1685.46" cy="662.8" r="6.25"/>
<circle cx="1687.3" cy="554.1" r="6.25"/><circle cx="1689.15" cy="494.2" r="6.25"/><circle cx="1691" cy="614" r="6.25"/><circle cx="1692.84" cy="696.4" r="6.25"/><circle cx="1694.69" cy="537.2" r="6.25"/><circle cx="1696.54" cy="397.1" r="6.25"/>
<circle cx="1698.38" cy="597.6" r="6.25"/><circle cx="1700.23" cy="453.2" r="6.25"/><circle cx="1702.08" cy="551.2" r="6.25"/><circle cx="1703.92" cy="413.6" r="6.25"/><circle cx="1705.77" cy="458.1" r="6.25"/><circle cx="1707.62" cy="482.2" r="6.25"/>
<circle cx="1709.46" cy="579.3" r="6.25"/><circle cx="1711.31" cy="633.8" r="6.25"/><circle cx="1713.16" cy="544.1" r="6.25"/><circle cx="1715" cy="596.5" r="6.25"/><circle cx="1716.85" cy="644.1" r="6.25"/><circle cx="1718.7" cy="570.8" r="6.25"/>
<circle cx="1720.54" cy="574.4" r="6.25"/><circle cx="1722.39" cy="592.8" r="6.25"/><circle cx="1724.23" cy="535.8" r="6.25"/><circle cx="1726.08" cy="764.2" r="6.25"/><circle cx="1727.93" cy="468.1" r="6.25"/><circle cx="1729.77" cy="657.9" r="6.25"/>
<circle cx="1731.62" cy="601" r="6.25"/><circle cx="1733.47" cy="609.7" r="6.25"/><circle cx="1735.31" cy="503.2" r="6.25"/><circle cx="1737.16" cy="582.2" r="6.25"/><circle cx="1739.01" cy="545.8" r="6.25"/><circle cx="1740.85" cy="466.1" r="6.25"/>
<circle cx="1742.7" cy="532.7" r="6.25"/><circle cx="1744.55" cy="489.8" r="6.25"/><circle cx="1746.39" cy="563" r="6.25"/><circle cx="1748.24" cy="454" r="6.25"/><circle cx="1750.09" cy="522.8" r="6.25"/><circle cx="1751.93" cy="502" r="6.25"/>
<circle cx="1753.78" cy="645.2" r="6.25"/><circle cx="1755.63" cy="491.8" r="6.25"/><circle cx="1757.47" cy="426.8" r="6.25"/><circle cx="1759.32" cy="499.2" r="6.25"/><circle cx="1761.17" cy="559.5" r="6.25"/><circle cx="1763.01" cy="541.2" r="6.25"/>
<circle cx="1764.86" cy="446.7" r="6.25"/><circle cx="1766.71" cy="592.1" r="6.25"/><circle cx="1768.55" cy="576.4" r="6.25"/><circle cx="1770.4" cy="433.1" r="6.25"/><circle cx="1772.25" cy="530.8" r="6.25"/><circle cx="1774.09" cy="576.5" r="6.25"/>
<circle cx="1775.94" cy="356.7" r="6.25"/><circle cx="1777.79" cy="469.5" r="6.25"/><circle cx="1779.63" cy="457" r="6.25"/><circle cx="1781.48" cy="514.1" r="6.25"/><circle cx="1783.33" cy="506.3" r="6.25"/><circle cx="1785.17" cy="536.5" r="6.25"/>
<circle cx="1787.02" cy="418.3" r="6.25"/><circle cx="1788.87" cy="616.2" r="6.25"/><circle cx="1790.71" cy="633.4" r="6.25"/><circle cx="1792.56" cy="565.5" r="6.25"/><circle cx="1794.41" cy="524.8" r="6.25"/><circle cx="1798.1" cy="382.1" r="6.25"/>
<circle cx="1799.95" cy="529.7" r="6.25"/><circle cx="1801.79" cy="408.5" r="6.25"/><circle cx="1803.64" cy="612.4" r="6.25"/><circle cx="1805.49" cy="510.7" r="6.25"/><circle cx="1807.33" cy="697.2" r="6.25"/><circle cx="1809.18" cy="738.3" r="6.25"/>
<circle cx="1811.03" cy="605.3" r="6.25"/><circle cx="1812.87" cy="766.4" r="6.25"/><circle cx="1814.72" cy="482.4" r="6.25"/><circle cx="1816.57" cy="567.5" r="6.25"/><circle cx="1818.41" cy="609.7" r="6.25"/><circle cx="1820.26" cy="363.6" r="6.25"/>
<circle cx="1822.11" cy="528.9" r="6.25"/><circle cx="1823.95" cy="683.2" r="6.25"/><circle cx="1825.8" cy="543" r="6.25"/><circle cx="1827.65" cy="432.8" r="6.25"/><circle cx="1829.49" cy="466.5" r="6.25"/><circle cx="1831.34" cy="488.4" r="6.25"/>
<circle cx="1833.19" cy="559.5" r="6.25"/><circle cx="1835.03" cy="490.7" r="6.25"/><circle cx="1836.88" cy="485.5" r="6.25"/><circle cx="1838.73" cy="507.4" r="6.25"/><circle cx="1840.57" cy="272.1" r="6.25"/><circle cx="1842.42" cy="548.7" r="6.25"/>
<circle cx="1844.27" cy="366.8" r="6.25"/><circle cx="1846.11" cy="455.4" r="6.25"/><circle cx="1847.96" cy="322.8" r="6.25"/><circle cx="1849.81" cy="530.2" r="6.25"/><circle cx="1851.65" cy="353.6" r="6.25"/>
</g>
<path class="fv" d="M226 212V856M1883.5 212V856"/><path class="fh" d="M222.88 215.2H1886.62M222.88 852.75H1886.62"/>
<text class="b" font-size="42.6" text-anchor="middle" transform="translate(258 919.4) scale(1 1.03)">0</text>
<text class="b" font-size="42.6" text-anchor="middle" transform="translate(390.96 919.4) scale(1 1.03)">6</text>
<text class="b" font-size="42.6" text-anchor="middle" transform="translate(523.92 919.4) scale(1 1.03)">12</text>
<text class="b" font-size="42.6" text-anchor="middle" transform="translate(656.88 919.4) scale(1 1.03)">18</text>
<text class="b" font-size="42.6" text-anchor="middle" transform="translate(789.83 919.4) scale(1 1.03)">24</text>
<text class="b" font-size="42.6" text-anchor="middle" transform="translate(922.79 919.4) scale(1 1.03)">30</text>
<text class="b" font-size="42.6" text-anchor="middle" transform="translate(1055.75 919.4) scale(1 1.03)">36</text>
<text class="b" font-size="42.6" text-anchor="middle" transform="translate(1188.71 919.4) scale(1 1.03)">42</text>
<text class="b" font-size="42.6" text-anchor="middle" transform="translate(1321.67 919.4) scale(1 1.03)">48</text>
<text class="b" font-size="42.6" text-anchor="middle" transform="translate(1454.62 919.4) scale(1 1.03)">54</text>
<text class="b" font-size="42.6" text-anchor="middle" transform="translate(1587.58 919.4) scale(1 1.03)">60</text>
<text class="b" font-size="42.6" text-anchor="middle" transform="translate(1720.54 919.4) scale(1 1.03)">66</text>
<text class="b" font-size="42.6" text-anchor="middle" transform="translate(1853.5 919.4) scale(1 1.03)">72</text>
<text class="b" font-size="42.6" text-anchor="end" transform="translate(190.8 328.8) scale(1 1.03)">8</text>
<text class="b" font-size="42.6" text-anchor="end" transform="translate(190.8 452.45) scale(1 1.03)">0</text>
<text class="b" font-size="42.6" text-anchor="end" transform="translate(190.8 576.1) scale(1 1.03)"><tspan dx="0" dy="4.7">−</tspan><tspan dx="-0.3" dy="-4.7">8</tspan></text>
<text class="b" font-size="42.6" text-anchor="end" transform="translate(190.8 699.7) scale(1 1.03)"><tspan dx="0" dy="4.7">−</tspan><tspan dx="-0.3" dy="-4.7">16</tspan></text>
<text class="b" font-size="42.6" text-anchor="end" transform="translate(190.8 823.4) scale(1 1.03)"><tspan dx="0" dy="4.7">−</tspan><tspan dx="-0.3" dy="-4.7">24</tspan></text>
<text font-size="42.55" text-anchor="middle" transform="translate(89.9 533.75) rotate(-90) scale(1 1.03)">East (mm)</text>
</g>
<g id="panel2">
<path class="tk" d="M258 1031.3V1012.2M258 1668.85V1687.8M302.32 1031.3V1021M302.32 1668.85V1679M346.64 1031.3V1021M346.64 1668.85V1679M390.96 1031.3V1012.2M390.96 1668.85V1687.8M435.28 1031.3V1021M435.28 1668.85V1679M479.6 1031.3V1021M479.6 1668.85V1679M523.92 1031.3V1012.2M523.92 1668.85V1687.8M568.24 1031.3V1021M568.24 1668.85V1679M612.56 1031.3V1021M612.56 1668.85V1679M656.88 1031.3V1012.2M656.88 1668.85V1687.8M701.19 1031.3V1021M701.19 1668.85V1679M745.51 1031.3V1021M745.51 1668.85V1679M789.83 1031.3V1012.2M789.83 1668.85V1687.8M834.15 1031.3V1021M834.15 1668.85V1679M878.47 1031.3V1021M878.47 1668.85V1679M922.79 1031.3V1012.2M922.79 1668.85V1687.8M967.11 1031.3V1021M967.11 1668.85V1679M1011.43 1031.3V1021M1011.43 1668.85V1679M1055.75 1031.3V1012.2M1055.75 1668.85V1687.8M1100.07 1031.3V1021M1100.07 1668.85V1679M1144.39 1031.3V1021M1144.39 1668.85V1679M1188.71 1031.3V1012.2M1188.71 1668.85V1687.8M1233.03 1031.3V1021M1233.03 1668.85V1679M1277.35 1031.3V1021M1277.35 1668.85V1679M1321.67 1031.3V1012.2M1321.67 1668.85V1687.8M1365.99 1031.3V1021M1365.99 1668.85V1679M1410.31 1031.3V1021M1410.31 1668.85V1679M1454.62 1031.3V1012.2M1454.62 1668.85V1687.8M1498.94 1031.3V1021M1498.94 1668.85V1679M1543.26 1031.3V1021M1543.26 1668.85V1679M1587.58 1031.3V1012.2M1587.58 1668.85V1687.8M1631.9 1031.3V1021M1631.9 1668.85V1679M1676.22 1031.3V1021M1676.22 1668.85V1679M1720.54 1031.3V1012.2M1720.54 1668.85V1687.8M1764.86 1031.3V1021M1764.86 1668.85V1679M1809.18 1031.3V1021M1809.18 1668.85V1679M1853.5 1031.3V1012.2M1853.5 1668.85V1687.8M226 1113.4h-18.8M1883.5 1113.4h18.8M226 1210h-18.8M1883.5 1210h18.8M226 1306.6h-18.8M1883.5 1306.6h18.8M226 1403.2h-18.8M1883.5 1403.2h18.8M226 1499.8h-18.8M1883.5 1499.8h18.8M226 1596.4h-18.8M1883.5 1596.4h18.8"/>
<g class="d">
<circle cx="258" cy="1306.4" r="6.25"/><circle cx="261.69" cy="1215.1" r="6.25"/><circle cx="263.54" cy="1267.6" r="6.25"/><circle cx="265.39" cy="1175.6" r="6.25"/><circle cx="267.23" cy="1247" r="6.25"/><circle cx="269.08" cy="1257.8" r="6.25"/>
<circle cx="270.93" cy="1342" r="6.25"/><circle cx="272.77" cy="1227.6" r="6.25"/><circle cx="274.62" cy="1218.5" r="6.25"/><circle cx="276.47" cy="1224.3" r="6.25"/><circle cx="278.31" cy="1294.1" r="6.25"/><circle cx="280.16" cy="1229.8" r="6.25"/>
<circle cx="282.01" cy="1237" r="6.25"/><circle cx="283.85" cy="1204" r="6.25"/><circle cx="285.7" cy="1193.9" r="6.25"/><circle cx="287.55" cy="1256.9" r="6.25"/><circle cx="289.39" cy="1108.6" r="6.25"/><circle cx="291.24" cy="1161.3" r="6.25"/>
<circle cx="293.09" cy="1243.3" r="6.25"/><circle cx="294.93" cy="1195.9" r="6.25"/><circle cx="296.78" cy="1224" r="6.25"/><circle cx="298.63" cy="1309.3" r="6.25"/><circle cx="300.47" cy="1210" r="6.25"/><circle cx="302.32" cy="1321.9" r="6.25"/>
<circle cx="304.17" cy="1335" r="6.25"/><circle cx="306.01" cy="1263.3" r="6.25"/><circle cx="307.86" cy="1380.2" r="6.25"/><circle cx="309.71" cy="1276.1" r="6.25"/><circle cx="311.55" cy="1234.5" r="6.25"/><circle cx="313.4" cy="1166.9" r="6.25"/>
<circle cx="315.25" cy="1258.7" r="6.25"/><circle cx="317.09" cy="1206.4" r="6.25"/><circle cx="318.94" cy="1194.8" r="6.25"/><circle cx="320.79" cy="1179.6" r="6.25"/><circle cx="322.63" cy="1220.2" r="6.25"/><circle cx="324.48" cy="1277" r="6.25"/>
<circle cx="326.33" cy="1256.9" r="6.25"/><circle cx="328.17" cy="1175.1" r="6.25"/><circle cx="330.02" cy="1209.8" r="6.25"/><circle cx="331.87" cy="1353.6" r="6.25"/><circle cx="333.71" cy="1240.1" r="6.25"/><circle cx="335.56" cy="1358.1" r="6.25"/>
<circle cx="337.41" cy="1203.5" r="6.25"/><circle cx="339.25" cy="1207.1" r="6.25"/><circle cx="341.1" cy="1109.5" r="6.25"/><circle cx="342.95" cy="1279.4" r="6.25"/><circle cx="344.79" cy="1268.2" r="6.25"/><circle cx="346.64" cy="1286.3" r="6.25"/>
<circle cx="348.49" cy="1299.5" r="6.25"/><circle cx="350.33" cy="1261.1" r="6.25"/><circle cx="352.18" cy="1249.9" r="6.25"/><circle cx="354.03" cy="1317.2" r="6.25"/><circle cx="355.87" cy="1309.4" r="6.25"/><circle cx="357.72" cy="1099.5" r="6.25"/>
<circle cx="359.57" cy="1190.1" r="6.25"/><circle cx="361.41" cy="1283.7" r="6.25"/><circle cx="363.26" cy="1193.5" r="6.25"/><circle cx="366.9" cy="1222.7" r="6.25"/><circle cx="366.95" cy="1199" r="6.25"/><circle cx="368.8" cy="1242.8" r="6.25"/>
<circle cx="372.49" cy="1202.6" r="6.25"/><circle cx="374.34" cy="1278.5" r="6.25"/><circle cx="376.19" cy="1251.1" r="6.25"/><circle cx="378.03" cy="1283.2" r="6.25"/><circle cx="379.88" cy="1288.3" r="6.25"/><circle cx="381.73" cy="1342.4" r="6.25"/>
<circle cx="383.57" cy="1208.6" r="6.25"/><circle cx="385.42" cy="1190.1" r="6.25"/><circle cx="387.27" cy="1263.4" r="6.25"/><circle cx="389.11" cy="1182.7" r="6.25"/><circle cx="390.96" cy="1165.5" r="6.25"/><circle cx="392.8" cy="1247.7" r="6.25"/>
<circle cx="394.65" cy="1328.1" r="6.25"/><circle cx="396.5" cy="1454.3" r="6.25"/><circle cx="398.34" cy="1344.4" r="6.25"/><circle cx="400.19" cy="1443.8" r="6.25"/><circle cx="402.04" cy="1275.9" r="6.25"/><circle cx="403.88" cy="1158" r="6.25"/>
<circle cx="405.73" cy="1211.5" r="6.25"/><circle cx="407.58" cy="1390.7" r="6.25"/><circle cx="409.42" cy="1299.3" r="6.25"/><circle cx="411.27" cy="1193.2" r="6.25"/><circle cx="413.12" cy="1276.3" r="6.25"/><circle cx="414.96" cy="1137.9" r="6.25"/>
<circle cx="416.81" cy="1214.4" r="6.25"/><circle cx="418.66" cy="1343.3" r="6.25"/><circle cx="420.5" cy="1308.5" r="6.25"/><circle cx="422.35" cy="1151.3" r="6.25"/><circle cx="424.2" cy="1274.5" r="6.25"/><circle cx="426.04" cy="1194.4" r="6.25"/>
<circle cx="427.89" cy="1219.4" r="6.25"/><circle cx="429.74" cy="1410.1" r="6.25"/><circle cx="431.58" cy="1347.8" r="6.25"/><circle cx="433.43" cy="1251.5" r="6.25"/><circle cx="437.12" cy="1231.4" r="6.25"/><circle cx="438.97" cy="1150.2" r="6.25"/>
<circle cx="440.82" cy="1198.4" r="6.25"/><circle cx="442.66" cy="1174.7" r="6.25"/><circle cx="444.51" cy="1262.2" r="6.25"/><circle cx="446.36" cy="1223.8" r="6.25"/><circle cx="448.2" cy="1269.6" r="6.25"/><circle cx="450.05" cy="1239.7" r="6.25"/>
<circle cx="451.9" cy="1227" r="6.25"/><circle cx="453.74" cy="1232.1" r="6.25"/><circle cx="455.59" cy="1109" r="6.25"/><circle cx="457.44" cy="1287" r="6.25"/><circle cx="459.28" cy="1362.7" r="6.25"/><circle cx="461.13" cy="1264.5" r="6.25"/>
<circle cx="462.98" cy="1276.7" r="6.25"/><circle cx="464.82" cy="1252.4" r="6.25"/><circle cx="466.67" cy="1278.7" r="6.25"/><circle cx="468.52" cy="1589.1" r="6.25"/><circle cx="470.36" cy="1304" r="6.25"/><circle cx="472.21" cy="1275.6" r="6.25"/>
<circle cx="474.06" cy="1202.6" r="6.25"/><circle cx="475.9" cy="1124.2" r="6.25"/><circle cx="477.75" cy="1212.9" r="6.25"/><circle cx="479.6" cy="1229.9" r="6.25"/><circle cx="481.44" cy="1207.7" r="6.25"/><circle cx="483.29" cy="1143" r="6.25"/>
<circle cx="483.9" cy="1259.6" r="6.25"/><circle cx="486.98" cy="1256.4" r="6.25"/><circle cx="488.83" cy="1333.5" r="6.25"/><circle cx="490.68" cy="1311.3" r="6.25"/><circle cx="493.68" cy="1257.8" r="6.25"/><circle cx="494.37" cy="1312.5" r="6.25"/>
<circle cx="496.22" cy="1225.2" r="6.25"/><circle cx="498.06" cy="1266" r="6.25"/><circle cx="499.91" cy="1254.6" r="6.25"/><circle cx="501.76" cy="1234.3" r="6.25"/><circle cx="503.6" cy="1204.9" r="6.25"/><circle cx="505.45" cy="1303.5" r="6.25"/>
<circle cx="507.3" cy="1286.3" r="6.25"/><circle cx="509.14" cy="1208.2" r="6.25"/><circle cx="510.99" cy="1338.4" r="6.25"/><circle cx="512.84" cy="1162.2" r="6.25"/><circle cx="514.68" cy="1301.3" r="6.25"/><circle cx="516.53" cy="1177.4" r="6.25"/>
<circle cx="518.38" cy="1257.1" r="6.25"/><circle cx="520.22" cy="1239" r="6.25"/><circle cx="523.36" cy="1260" r="6.25"/><circle cx="523.92" cy="1188.5" r="6.25"/><circle cx="525.76" cy="1179.6" r="6.25"/><circle cx="527.61" cy="1262.4" r="6.25"/>
<circle cx="529.46" cy="1167.5" r="6.25"/><circle cx="531.3" cy="1258.2" r="6.25"/><circle cx="533.15" cy="1197.7" r="6.25"/><circle cx="535" cy="1415.2" r="6.25"/><circle cx="536.84" cy="1386.6" r="6.25"/><circle cx="538.69" cy="1209.7" r="6.25"/>
<circle cx="540.54" cy="1244.6" r="6.25"/><circle cx="542.38" cy="1236.5" r="6.25"/><circle cx="544.23" cy="1304.6" r="6.25"/><circle cx="546.08" cy="1241.9" r="6.25"/><circle cx="547.92" cy="1317.2" r="6.25"/><circle cx="549.77" cy="1348.6" r="6.25"/>
<circle cx="551.62" cy="1386" r="6.25"/><circle cx="553.46" cy="1272.7" r="6.25"/><circle cx="555.31" cy="1250.4" r="6.25"/><circle cx="557.16" cy="1216.2" r="6.25"/><circle cx="559" cy="1262.5" r="6.25"/><circle cx="560.85" cy="1289" r="6.25"/>
<circle cx="562.7" cy="1305.8" r="6.25"/><circle cx="564.54" cy="1212" r="6.25"/><circle cx="566.39" cy="1291.7" r="6.25"/><circle cx="568.24" cy="1194.3" r="6.25"/><circle cx="570.08" cy="1271.6" r="6.25"/><circle cx="571.93" cy="1239.4" r="6.25"/>
<circle cx="573.78" cy="1343.3" r="6.25"/><circle cx="575.62" cy="1312.7" r="6.25"/><circle cx="577.47" cy="1083.2" r="6.25"/><circle cx="579.32" cy="1207.7" r="6.25"/><circle cx="581.16" cy="1150.1" r="6.25"/><circle cx="583.01" cy="1189" r="6.25"/>
<circle cx="584.86" cy="1214.7" r="6.25"/><circle cx="586.7" cy="1167.1" r="6.25"/><circle cx="588.55" cy="1121.3" r="6.25"/><circle cx="590.4" cy="1327.9" r="6.25"/><circle cx="592.24" cy="1252" r="6.25"/><circle cx="594.09" cy="1356.5" r="6.25"/>
<circle cx="595.94" cy="1295.1" r="6.25"/><circle cx="597.78" cy="1424.2" r="6.25"/><circle cx="599.63" cy="1204.9" r="6.25"/><circle cx="601.48" cy="1367.7" r="6.25"/><circle cx="603.32" cy="1345.7" r="6.25"/><circle cx="605.17" cy="1354.2" r="6.25"/>
<circle cx="607.02" cy="1436.4" r="6.25"/><circle cx="607.58" cy="1347.5" r="6.25"/><circle cx="608.3" cy="1279.6" r="6.25"/><circle cx="610.66" cy="1340.8" r="6.25"/><circle cx="613.01" cy="1349.3" r="6.25"/><circle cx="614.1" cy="1195" r="6.25"/>
<circle cx="616.27" cy="1284.6" r="6.25"/><circle cx="618.08" cy="1326.5" r="6.25"/><circle cx="619.71" cy="1296.2" r="6.25"/><circle cx="621.71" cy="1250.6" r="6.25"/><circle cx="623.52" cy="1221.4" r="6.25"/><circle cx="625.33" cy="1139.9" r="6.25"/>
<circle cx="626.96" cy="1187.7" r="6.25"/><circle cx="628.95" cy="1201.3" r="6.25"/><circle cx="630.76" cy="1174.9" r="6.25"/><circle cx="634.72" cy="1225.8" r="6.25"/><circle cx="636.56" cy="1262.2" r="6.25"/><circle cx="638.41" cy="1239.7" r="6.25"/>
<circle cx="640.26" cy="1185.4" r="6.25"/><circle cx="642.1" cy="1201.3" r="6.25"/><circle cx="643.95" cy="1287.2" r="6.25"/><circle cx="645.8" cy="1227.6" r="6.25"/><circle cx="647.64" cy="1161.1" r="6.25"/><circle cx="649.49" cy="1245.7" r="6.25"/>
<circle cx="651.34" cy="1189.9" r="6.25"/><circle cx="653.18" cy="1233.7" r="6.25"/><circle cx="655.03" cy="1181" r="6.25"/><circle cx="656.88" cy="1331" r="6.25"/><circle cx="658.72" cy="1255.5" r="6.25"/><circle cx="660.57" cy="1244.6" r="6.25"/>
<circle cx="662.41" cy="1299.1" r="6.25"/><circle cx="664.26" cy="1324.8" r="6.25"/><circle cx="666.11" cy="1282.3" r="6.25"/><circle cx="667.95" cy="1270.9" r="6.25"/><circle cx="669.8" cy="1243.3" r="6.25"/><circle cx="671.65" cy="1189.9" r="6.25"/>
<circle cx="673.49" cy="1191.9" r="6.25"/><circle cx="675.34" cy="1226.1" r="6.25"/><circle cx="677.19" cy="1176.7" r="6.25"/><circle cx="679.03" cy="1211.1" r="6.25"/><circle cx="680.88" cy="1342.8" r="6.25"/><circle cx="682.73" cy="1118.9" r="6.25"/>
<circle cx="684.57" cy="1078.9" r="6.25"/><circle cx="686.42" cy="1078.9" r="6.25"/><circle cx="688.27" cy="1153.3" r="6.25"/><circle cx="689.08" cy="1059.3" r="6.25"/><circle cx="691.96" cy="1197.3" r="6.25"/><circle cx="693.81" cy="1057.2" r="6.25"/>
<circle cx="695.65" cy="1335.7" r="6.25"/><circle cx="697.5" cy="1257.5" r="6.25"/><circle cx="699.35" cy="1221.2" r="6.25"/><circle cx="701.19" cy="1197" r="6.25"/><circle cx="703.04" cy="1270.9" r="6.25"/><circle cx="704.89" cy="1156.9" r="6.25"/>
<circle cx="706.73" cy="1235.2" r="6.25"/><circle cx="708.58" cy="1184.5" r="6.25"/><circle cx="712.27" cy="1250" r="6.25"/><circle cx="714.12" cy="1252.4" r="6.25"/><circle cx="715.97" cy="1163.3" r="6.25"/><circle cx="717.81" cy="1193.2" r="6.25"/>
<circle cx="719.66" cy="1263.6" r="6.25"/><circle cx="721.51" cy="1175.6" r="6.25"/><circle cx="723.14" cy="1205.7" r="6.25"/><circle cx="723.35" cy="1189.5" r="6.25"/><circle cx="727.05" cy="1185.9" r="6.25"/><circle cx="728.89" cy="1227" r="6.25"/>
<circle cx="730.74" cy="1359.2" r="6.25"/><circle cx="732.59" cy="1255.7" r="6.25"/><circle cx="734.43" cy="1118.4" r="6.25"/><circle cx="736.28" cy="1043.4" r="6.25"/><circle cx="738.13" cy="1170.2" r="6.25"/><circle cx="739.97" cy="1092.7" r="6.25"/>
<circle cx="741.82" cy="1291.3" r="6.25"/><circle cx="743.67" cy="1656.3" r="6.25"/><circle cx="745.51" cy="1267.1" r="6.25"/><circle cx="747.36" cy="1361.9" r="6.25"/><circle cx="749.21" cy="1361.4" r="6.25"/><circle cx="751.05" cy="1327.7" r="6.25"/>
<circle cx="752.9" cy="1389.1" r="6.25"/><circle cx="754.75" cy="1259.5" r="6.25"/><circle cx="756.59" cy="1163.6" r="6.25"/><circle cx="758.44" cy="1194.4" r="6.25"/><circle cx="760.29" cy="1224.5" r="6.25"/><circle cx="762.13" cy="1414.8" r="6.25"/>
<circle cx="763.98" cy="1216.2" r="6.25"/><circle cx="767.51" cy="1235.7" r="6.25"/><circle cx="767.67" cy="1222.1" r="6.25"/><circle cx="769.52" cy="1230.7" r="6.25"/><circle cx="771.37" cy="1277.9" r="6.25"/><circle cx="773.21" cy="1252.4" r="6.25"/>
<circle cx="775.06" cy="1170.9" r="6.25"/><circle cx="776.91" cy="1208.6" r="6.25"/><circle cx="778.75" cy="1196.2" r="6.25"/><circle cx="780.6" cy="1262" r="6.25"/><circle cx="782.45" cy="1128" r="6.25"/><circle cx="784.29" cy="1238.1" r="6.25"/>
<circle cx="786.14" cy="1287" r="6.25"/><circle cx="787.99" cy="1160.9" r="6.25"/><circle cx="789.83" cy="1172.7" r="6.25"/><circle cx="791.68" cy="1162.4" r="6.25"/><circle cx="793.53" cy="1188.1" r="6.25"/><circle cx="795.37" cy="1200.1" r="6.25"/>
<circle cx="797.22" cy="1256" r="6.25"/><circle cx="799.07" cy="1097.7" r="6.25"/><circle cx="800.91" cy="1124.7" r="6.25"/><circle cx="802.76" cy="1315.2" r="6.25"/><circle cx="802.98" cy="1227" r="6.25"/><circle cx="806.45" cy="1261.1" r="6.25"/>
<circle cx="808.3" cy="1226.1" r="6.25"/><circle cx="810.15" cy="1249" r="6.25"/><circle cx="811.99" cy="1306.7" r="6.25"/><circle cx="813.84" cy="1317.2" r="6.25"/><circle cx="815.69" cy="1228.3" r="6.25"/><circle cx="817.53" cy="1312.7" r="6.25"/>
<circle cx="819.38" cy="1169.6" r="6.25"/><circle cx="821.23" cy="1256" r="6.25"/><circle cx="823.07" cy="1152.1" r="6.25"/><circle cx="824.92" cy="1297.7" r="6.25"/><circle cx="826.77" cy="1261.5" r="6.25"/><circle cx="828.61" cy="1247.3" r="6.25"/>
<circle cx="830.46" cy="1287.7" r="6.25"/><circle cx="832.31" cy="1169.6" r="6.25"/><circle cx="834.15" cy="1178.5" r="6.25"/><circle cx="836" cy="1243.3" r="6.25"/><circle cx="837.85" cy="1289.9" r="6.25"/><circle cx="839.69" cy="1218.7" r="6.25"/>
<circle cx="841.54" cy="1164.2" r="6.25"/><circle cx="843.39" cy="1286.8" r="6.25"/><circle cx="845.23" cy="1233.4" r="6.25"/><circle cx="847.08" cy="1225.2" r="6.25"/><circle cx="848.93" cy="1216.2" r="6.25"/><circle cx="850.77" cy="1213.5" r="6.25"/>
<circle cx="852.62" cy="1264.2" r="6.25"/><circle cx="854.47" cy="1287.2" r="6.25"/><circle cx="856.31" cy="1229.8" r="6.25"/><circle cx="858.16" cy="1231.9" r="6.25"/><circle cx="860.01" cy="1185.6" r="6.25"/><circle cx="861.85" cy="1209.1" r="6.25"/>
<circle cx="863.7" cy="1269.2" r="6.25"/><circle cx="865.55" cy="1138.8" r="6.25"/><circle cx="867.39" cy="1281.7" r="6.25"/><circle cx="869.24" cy="1302.6" r="6.25"/><circle cx="871.09" cy="1341.1" r="6.25"/><circle cx="872.93" cy="1365.9" r="6.25"/>
<circle cx="874.78" cy="1381.5" r="6.25"/><circle cx="876.63" cy="1288.3" r="6.25"/><circle cx="878.47" cy="1279.6" r="6.25"/><circle cx="880.32" cy="1235.7" r="6.25"/><circle cx="884.01" cy="1259.6" r="6.25"/><circle cx="884.48" cy="1283.2" r="6.25"/>
<circle cx="887.71" cy="1280.1" r="6.25"/><circle cx="889.55" cy="1247.9" r="6.25"/><circle cx="891.4" cy="1217.1" r="6.25"/><circle cx="893.25" cy="1211.6" r="6.25"/><circle cx="895.09" cy="1244.6" r="6.25"/><circle cx="896.94" cy="1179.2" r="6.25"/>
<circle cx="898.79" cy="1313.1" r="6.25"/><circle cx="900.63" cy="1256.6" r="6.25"/><circle cx="902.48" cy="1209.8" r="6.25"/><circle cx="904.33" cy="1279.6" r="6.25"/><circle cx="906.17" cy="1329.4" r="6.25"/><circle cx="908.02" cy="1232.8" r="6.25"/>
<circle cx="909.87" cy="1264.7" r="6.25"/><circle cx="911.71" cy="1224.7" r="6.25"/><circle cx="913.56" cy="1087.8" r="6.25"/><circle cx="915.41" cy="1248.8" r="6.25"/><circle cx="917.25" cy="1320.9" r="6.25"/><circle cx="919.1" cy="1327.6" r="6.25"/>
<circle cx="920.95" cy="1239.7" r="6.25"/><circle cx="922.79" cy="1259.6" r="6.25"/><circle cx="924.64" cy="1285.7" r="6.25"/><circle cx="926.48" cy="1351.8" r="6.25"/><circle cx="928.33" cy="1304.9" r="6.25"/><circle cx="930.18" cy="1268.7" r="6.25"/>
<circle cx="932.02" cy="1260" r="6.25"/><circle cx="933.87" cy="1201.1" r="6.25"/><circle cx="935.72" cy="1388.6" r="6.25"/><circle cx="937.56" cy="1318" r="6.25"/><circle cx="939.41" cy="1364.7" r="6.25"/><circle cx="941.26" cy="1302.2" r="6.25"/>
<circle cx="943.1" cy="1208.6" r="6.25"/><circle cx="944.95" cy="1306.2" r="6.25"/><circle cx="946.8" cy="1204.4" r="6.25"/><circle cx="948.64" cy="1423.7" r="6.25"/><circle cx="950.49" cy="1313.2" r="6.25"/><circle cx="952.34" cy="1204.9" r="6.25"/>
<circle cx="954.18" cy="1174.5" r="6.25"/><circle cx="956.03" cy="1256" r="6.25"/><circle cx="957.88" cy="1275" r="6.25"/><circle cx="959.72" cy="1251.1" r="6.25"/><circle cx="961.57" cy="1302.6" r="6.25"/><circle cx="963.42" cy="1267.4" r="6.25"/>
<circle cx="967.11" cy="1176.3" r="6.25"/><circle cx="968.96" cy="1164.9" r="6.25"/><circle cx="970.8" cy="1326.5" r="6.25"/><circle cx="972.65" cy="1230.7" r="6.25"/><circle cx="974.5" cy="1276.5" r="6.25"/><circle cx="976.34" cy="1202.6" r="6.25"/>
<circle cx="978.19" cy="1222.9" r="6.25"/><circle cx="981.39" cy="1274.1" r="6.25"/><circle cx="981.88" cy="1314.3" r="6.25"/><circle cx="983.73" cy="1203.1" r="6.25"/><circle cx="985.58" cy="1173.6" r="6.25"/><circle cx="987.42" cy="1274.5" r="6.25"/>
<circle cx="989.27" cy="1082.3" r="6.25"/><circle cx="991.12" cy="1208.7" r="6.25"/><circle cx="992.96" cy="1268.2" r="6.25"/><circle cx="994.81" cy="1166.4" r="6.25"/><circle cx="996.66" cy="1156.6" r="6.25"/><circle cx="1000.35" cy="1170" r="6.25"/>
<circle cx="1002.2" cy="1307.5" r="6.25"/><circle cx="1004.04" cy="1209.8" r="6.25"/><circle cx="1005.89" cy="1220.3" r="6.25"/><circle cx="1007.74" cy="1440.4" r="6.25"/><circle cx="1009.58" cy="1402.7" r="6.25"/><circle cx="1011.43" cy="1265.8" r="6.25"/>
<circle cx="1013.28" cy="1205.8" r="6.25"/><circle cx="1015.12" cy="1183.6" r="6.25"/><circle cx="1016.97" cy="1248.2" r="6.25"/><circle cx="1018.82" cy="1218.5" r="6.25"/><circle cx="1020.66" cy="1179.9" r="6.25"/><circle cx="1022.51" cy="1192.1" r="6.25"/>
<circle cx="1024.36" cy="1244.8" r="6.25"/><circle cx="1026.2" cy="1204.6" r="6.25"/><circle cx="1028.05" cy="1269.6" r="6.25"/><circle cx="1029.9" cy="1247" r="6.25"/><circle cx="1030.29" cy="1266" r="6.25"/><circle cx="1033.59" cy="1262" r="6.25"/>
<circle cx="1035.44" cy="1285" r="6.25"/><circle cx="1037.28" cy="1231.9" r="6.25"/><circle cx="1039.13" cy="1243.3" r="6.25"/><circle cx="1040.98" cy="1183.9" r="6.25"/><circle cx="1042.82" cy="1167.8" r="6.25"/><circle cx="1044.67" cy="1180.9" r="6.25"/>
<circle cx="1046.52" cy="1215.8" r="6.25"/><circle cx="1048.36" cy="1284.3" r="6.25"/><circle cx="1050.21" cy="1239.7" r="6.25"/><circle cx="1052.06" cy="1236.1" r="6.25"/><circle cx="1053.9" cy="1200.4" r="6.25"/><circle cx="1055.75" cy="1226.1" r="6.25"/>
<circle cx="1057.6" cy="1103.3" r="6.25"/><circle cx="1059.44" cy="1252.9" r="6.25"/><circle cx="1061.29" cy="1239.4" r="6.25"/><circle cx="1063.14" cy="1254.2" r="6.25"/><circle cx="1064.98" cy="1325.4" r="6.25"/><circle cx="1066.83" cy="1338.4" r="6.25"/>
<circle cx="1068.68" cy="1314.9" r="6.25"/><circle cx="1070.52" cy="1220" r="6.25"/><circle cx="1072.37" cy="1131" r="6.25"/><circle cx="1074.22" cy="1263.3" r="6.25"/><circle cx="1076.06" cy="1312.2" r="6.25"/><circle cx="1077.91" cy="1087.9" r="6.25"/>
<circle cx="1079.76" cy="1254.2" r="6.25"/><circle cx="1081.6" cy="1139.2" r="6.25"/><circle cx="1083.45" cy="1186.3" r="6.25"/><circle cx="1085.3" cy="1264.7" r="6.25"/><circle cx="1087.14" cy="1346.9" r="6.25"/><circle cx="1088.99" cy="1191.4" r="6.25"/>
<circle cx="1090.84" cy="1249.9" r="6.25"/><circle cx="1092.68" cy="1355.4" r="6.25"/><circle cx="1094.53" cy="1268.7" r="6.25"/><circle cx="1096.38" cy="1277.4" r="6.25"/><circle cx="1098.22" cy="1287.2" r="6.25"/><circle cx="1098.9" cy="1208.6" r="6.25"/>
<circle cx="1101.92" cy="1205.8" r="6.25"/><circle cx="1103.76" cy="1270.5" r="6.25"/><circle cx="1105.61" cy="1095.7" r="6.25"/><circle cx="1107.46" cy="1208.6" r="6.25"/><circle cx="1109.3" cy="1222" r="6.25"/><circle cx="1111.15" cy="1315.2" r="6.25"/>
<circle cx="1113" cy="1208" r="6.25"/><circle cx="1114.84" cy="1168.2" r="6.25"/><circle cx="1116.69" cy="1183.6" r="6.25"/><circle cx="1118.54" cy="1244.8" r="6.25"/><circle cx="1120.38" cy="1258.9" r="6.25"/><circle cx="1122.23" cy="1144.4" r="6.25"/>
<circle cx="1124.08" cy="1339" r="6.25"/><circle cx="1125.92" cy="1337.5" r="6.25"/><circle cx="1127.77" cy="1085" r="6.25"/><circle cx="1129.62" cy="1312.5" r="6.25"/><circle cx="1131.46" cy="1299.8" r="6.25"/><circle cx="1133.31" cy="1446.2" r="6.25"/>
<circle cx="1135.16" cy="1273.2" r="6.25"/><circle cx="1137" cy="1483.1" r="6.25"/><circle cx="1138.85" cy="1348.6" r="6.25"/><circle cx="1140.7" cy="1189" r="6.25"/><circle cx="1142.54" cy="1335.7" r="6.25"/><circle cx="1144.39" cy="1269.1" r="6.25"/>
<circle cx="1145.09" cy="1339.3" r="6.25"/><circle cx="1148.08" cy="1266.9" r="6.25"/><circle cx="1149.93" cy="1337.5" r="6.25"/><circle cx="1151.78" cy="1094.3" r="6.25"/><circle cx="1153.62" cy="1195.5" r="6.25"/><circle cx="1155.47" cy="1289.9" r="6.25"/>
<circle cx="1157.32" cy="1256.4" r="6.25"/><circle cx="1159.16" cy="1275.9" r="6.25"/><circle cx="1161.01" cy="1230.8" r="6.25"/><circle cx="1162.86" cy="1180.9" r="6.25"/><circle cx="1164.7" cy="1136.5" r="6.25"/><circle cx="1166.55" cy="1193.5" r="6.25"/>
<circle cx="1168.4" cy="1183.6" r="6.25"/><circle cx="1170.24" cy="1126.5" r="6.25"/><circle cx="1172.09" cy="1108" r="6.25"/><circle cx="1173.94" cy="1136.1" r="6.25"/><circle cx="1175.78" cy="1257.8" r="6.25"/><circle cx="1177.63" cy="1176.9" r="6.25"/>
<circle cx="1179.48" cy="1144.6" r="6.25"/><circle cx="1181.32" cy="1191.9" r="6.25"/><circle cx="1183.17" cy="1241.7" r="6.25"/><circle cx="1185.02" cy="1256" r="6.25"/><circle cx="1186.86" cy="1211.1" r="6.25"/><circle cx="1188.71" cy="1195" r="6.25"/>
<circle cx="1190.55" cy="1281" r="6.25"/><circle cx="1192.4" cy="1270.9" r="6.25"/><circle cx="1194.25" cy="1292.2" r="6.25"/><circle cx="1196.09" cy="1198.1" r="6.25"/><circle cx="1197.94" cy="1234.3" r="6.25"/><circle cx="1199.79" cy="1167.3" r="6.25"/>
<circle cx="1201.63" cy="1286.8" r="6.25"/><circle cx="1203.48" cy="1242.3" r="6.25"/><circle cx="1205.33" cy="1271.2" r="6.25"/><circle cx="1207.17" cy="1174.5" r="6.25"/><circle cx="1209.02" cy="1302.6" r="6.25"/><circle cx="1210.87" cy="1059.3" r="6.25"/>
<circle cx="1212.71" cy="1137.2" r="6.25"/><circle cx="1214.56" cy="1329.4" r="6.25"/><circle cx="1216.41" cy="1307.3" r="6.25"/><circle cx="1218.25" cy="1080.9" r="6.25"/><circle cx="1220.1" cy="1343.9" r="6.25"/><circle cx="1221.95" cy="1226.3" r="6.25"/>
<circle cx="1223.79" cy="1368.3" r="6.25"/><circle cx="1225.64" cy="1358.7" r="6.25"/><circle cx="1227.49" cy="1265.1" r="6.25"/><circle cx="1231.18" cy="1217.8" r="6.25"/><circle cx="1233.03" cy="1253.8" r="6.25"/><circle cx="1234.87" cy="1292.6" r="6.25"/>
<circle cx="1238.57" cy="1290.8" r="6.25"/><circle cx="1240.41" cy="1325.4" r="6.25"/><circle cx="1242.26" cy="1240.1" r="6.25"/><circle cx="1244.11" cy="1296.8" r="6.25"/><circle cx="1245.95" cy="1277" r="6.25"/><circle cx="1247.8" cy="1212" r="6.25"/>
<circle cx="1249.65" cy="1244.2" r="6.25"/><circle cx="1251.49" cy="1276.8" r="6.25"/><circle cx="1253.34" cy="1215.3" r="6.25"/><circle cx="1255.19" cy="1273.2" r="6.25"/><circle cx="1257.03" cy="1218" r="6.25"/><circle cx="1258.88" cy="1288.1" r="6.25"/>
<circle cx="1260.73" cy="1236.3" r="6.25"/><circle cx="1262.57" cy="1265.3" r="6.25"/><circle cx="1264.42" cy="1206.2" r="6.25"/><circle cx="1266.27" cy="1186.3" r="6.25"/><circle cx="1268.11" cy="1239.4" r="6.25"/><circle cx="1269.96" cy="1222.3" r="6.25"/>
<circle cx="1271.81" cy="1339.9" r="6.25"/><circle cx="1273.65" cy="1293.5" r="6.25"/><circle cx="1275.5" cy="1165.8" r="6.25"/><circle cx="1277.35" cy="1175.6" r="6.25"/><circle cx="1279.19" cy="1150.1" r="6.25"/><circle cx="1281.04" cy="1208.2" r="6.25"/>
<circle cx="1282.89" cy="1196.2" r="6.25"/><circle cx="1284.73" cy="1307.6" r="6.25"/><circle cx="1286.58" cy="1290.1" r="6.25"/><circle cx="1288.43" cy="1300.9" r="6.25"/><circle cx="1290.27" cy="1274.1" r="6.25"/><circle cx="1292.12" cy="1355.6" r="6.25"/>
<circle cx="1293.97" cy="1211.8" r="6.25"/><circle cx="1295.81" cy="1190.5" r="6.25"/><circle cx="1297.66" cy="1185.7" r="6.25"/><circle cx="1299.51" cy="1253.7" r="6.25"/><circle cx="1301.35" cy="1403.1" r="6.25"/><circle cx="1303.2" cy="1294.1" r="6.25"/>
<circle cx="1305.05" cy="1327.9" r="6.25"/><circle cx="1306.89" cy="1212.4" r="6.25"/><circle cx="1308.74" cy="1240.1" r="6.25"/><circle cx="1312.43" cy="1246.1" r="6.25"/><circle cx="1314.28" cy="1201.3" r="6.25"/><circle cx="1316.13" cy="1272.3" r="6.25"/>
<circle cx="1317.97" cy="1184.1" r="6.25"/><circle cx="1319.82" cy="1139.7" r="6.25"/><circle cx="1321.67" cy="1293.1" r="6.25"/><circle cx="1323.51" cy="1234.6" r="6.25"/><circle cx="1325.36" cy="1246.1" r="6.25"/><circle cx="1327.21" cy="1203.9" r="6.25"/>
<circle cx="1330.9" cy="1234.3" r="6.25"/><circle cx="1332.75" cy="1194.1" r="6.25"/><circle cx="1334.59" cy="1125.1" r="6.25"/><circle cx="1336.44" cy="1306.2" r="6.25"/><circle cx="1338.29" cy="1209.5" r="6.25"/><circle cx="1340.13" cy="1254.2" r="6.25"/>
<circle cx="1341.98" cy="1297.7" r="6.25"/><circle cx="1343.83" cy="1218.9" r="6.25"/><circle cx="1345.67" cy="1285.5" r="6.25"/><circle cx="1347.52" cy="1181.9" r="6.25"/><circle cx="1349.37" cy="1307.6" r="6.25"/><circle cx="1351.21" cy="1292.2" r="6.25"/>
<circle cx="1353.06" cy="1258.9" r="6.25"/><circle cx="1354.91" cy="1329.9" r="6.25"/><circle cx="1356.75" cy="1302.7" r="6.25"/><circle cx="1358.6" cy="1276.8" r="6.25"/><circle cx="1360.45" cy="1384.4" r="6.25"/><circle cx="1362.29" cy="1343.3" r="6.25"/>
<circle cx="1364.14" cy="1279.6" r="6.25"/><circle cx="1365.99" cy="1253.3" r="6.25"/><circle cx="1367.83" cy="1245.1" r="6.25"/><circle cx="1369.68" cy="1312.2" r="6.25"/><circle cx="1371.53" cy="1097" r="6.25"/><circle cx="1373.37" cy="1145.2" r="6.25"/>
<circle cx="1375.22" cy="1235.7" r="6.25"/><circle cx="1377.07" cy="1117.5" r="6.25"/><circle cx="1378.91" cy="1292.8" r="6.25"/><circle cx="1380.76" cy="1247.3" r="6.25"/><circle cx="1382.61" cy="1262.2" r="6.25"/><circle cx="1384.45" cy="1318.5" r="6.25"/>
<circle cx="1386.3" cy="1314" r="6.25"/><circle cx="1388.15" cy="1288.6" r="6.25"/><circle cx="1389.99" cy="1130" r="6.25"/><circle cx="1391.84" cy="1189.7" r="6.25"/><circle cx="1393.69" cy="1336.1" r="6.25"/><circle cx="1395.53" cy="1295.9" r="6.25"/>
<circle cx="1397.38" cy="1283.2" r="6.25"/><circle cx="1399.23" cy="1265.4" r="6.25"/><circle cx="1401.07" cy="1365.4" r="6.25"/><circle cx="1402.92" cy="1430.4" r="6.25"/><circle cx="1404.77" cy="1330.6" r="6.25"/><circle cx="1406.61" cy="1444.7" r="6.25"/>
<circle cx="1408.46" cy="1424.8" r="6.25"/><circle cx="1410.31" cy="1325.2" r="6.25"/><circle cx="1412.15" cy="1363.6" r="6.25"/><circle cx="1414" cy="1194.8" r="6.25"/><circle cx="1415.85" cy="1268.2" r="6.25"/><circle cx="1417.69" cy="1340.2" r="6.25"/>
<circle cx="1419.54" cy="1255.1" r="6.25"/><circle cx="1421.39" cy="1186.6" r="6.25"/><circle cx="1424.71" cy="1285" r="6.25"/><circle cx="1425.08" cy="1264.2" r="6.25"/><circle cx="1426.93" cy="1302.4" r="6.25"/><circle cx="1428.77" cy="1344.4" r="6.25"/>
<circle cx="1430.62" cy="1152.8" r="6.25"/><circle cx="1432.47" cy="1216" r="6.25"/><circle cx="1434.31" cy="1165.8" r="6.25"/><circle cx="1436.16" cy="1155" r="6.25"/><circle cx="1438.01" cy="1333" r="6.25"/><circle cx="1439.85" cy="1205.3" r="6.25"/>
<circle cx="1441.7" cy="1197.2" r="6.25"/><circle cx="1443.55" cy="1289.2" r="6.25"/><circle cx="1445.39" cy="1145.9" r="6.25"/><circle cx="1447.24" cy="1158.6" r="6.25"/><circle cx="1449.09" cy="1224.3" r="6.25"/><circle cx="1450.93" cy="1382.6" r="6.25"/>
<circle cx="1452.78" cy="1422.6" r="6.25"/><circle cx="1454.62" cy="1310.4" r="6.25"/><circle cx="1456.47" cy="1224" r="6.25"/><circle cx="1458.32" cy="1077.6" r="6.25"/><circle cx="1460.16" cy="1148.6" r="6.25"/><circle cx="1462.01" cy="1152.4" r="6.25"/>
<circle cx="1463.86" cy="1364.7" r="6.25"/><circle cx="1465.7" cy="1384.8" r="6.25"/><circle cx="1467.55" cy="1440.9" r="6.25"/><circle cx="1469.4" cy="1401.6" r="6.25"/><circle cx="1471.24" cy="1313.6" r="6.25"/><circle cx="1473.09" cy="1299.8" r="6.25"/>
<circle cx="1474.94" cy="1245.1" r="6.25"/><circle cx="1476.78" cy="1199.9" r="6.25"/><circle cx="1478.63" cy="1297.7" r="6.25"/><circle cx="1480.48" cy="1216.2" r="6.25"/><circle cx="1482.32" cy="1304" r="6.25"/><circle cx="1484.17" cy="1239.7" r="6.25"/>
<circle cx="1486.02" cy="1260" r="6.25"/><circle cx="1487.86" cy="1242.4" r="6.25"/><circle cx="1489.71" cy="1226.7" r="6.25"/><circle cx="1491.56" cy="1147" r="6.25"/><circle cx="1493.4" cy="1273.9" r="6.25"/><circle cx="1494.08" cy="1231.6" r="6.25"/>
<circle cx="1497.1" cy="1154.6" r="6.25"/><circle cx="1500.78" cy="1247.9" r="6.25"/><circle cx="1500.79" cy="1234.3" r="6.25"/><circle cx="1502.64" cy="1101.3" r="6.25"/><circle cx="1506.33" cy="1208.7" r="6.25"/><circle cx="1508.18" cy="1319.4" r="6.25"/>
<circle cx="1508.93" cy="1234.8" r="6.25"/><circle cx="1511.87" cy="1295" r="6.25"/><circle cx="1513.72" cy="1374.6" r="6.25"/><circle cx="1515.56" cy="1219.1" r="6.25"/><circle cx="1517.41" cy="1235.7" r="6.25"/><circle cx="1519.26" cy="1164.7" r="6.25"/>
<circle cx="1521.1" cy="1137.7" r="6.25"/><circle cx="1522.95" cy="1261.5" r="6.25"/><circle cx="1524.8" cy="1237.9" r="6.25"/><circle cx="1526.64" cy="1252.4" r="6.25"/><circle cx="1528.49" cy="1236.1" r="6.25"/><circle cx="1530.34" cy="1220" r="6.25"/>
<circle cx="1532.18" cy="1061.3" r="6.25"/><circle cx="1534.03" cy="1235.2" r="6.25"/><circle cx="1535.88" cy="1156.8" r="6.25"/><circle cx="1537.72" cy="1293.3" r="6.25"/><circle cx="1539.57" cy="1316.1" r="6.25"/><circle cx="1541.42" cy="1048.1" r="6.25"/>
<circle cx="1543.26" cy="1222.7" r="6.25"/><circle cx="1545.11" cy="1119.6" r="6.25"/><circle cx="1546.96" cy="1195.2" r="6.25"/><circle cx="1548.8" cy="1157.3" r="6.25"/><circle cx="1550.65" cy="1276.8" r="6.25"/><circle cx="1552.5" cy="1248.4" r="6.25"/>
<circle cx="1554.34" cy="1207.3" r="6.25"/><circle cx="1556.19" cy="1280.5" r="6.25"/><circle cx="1558.04" cy="1264.2" r="6.25"/><circle cx="1559.88" cy="1293.3" r="6.25"/><circle cx="1561.73" cy="1257.5" r="6.25"/><circle cx="1563.58" cy="1188.3" r="6.25"/>
<circle cx="1565.42" cy="1241" r="6.25"/><circle cx="1567.27" cy="1097.5" r="6.25"/><circle cx="1569.12" cy="1260.5" r="6.25"/><circle cx="1570.96" cy="1170.5" r="6.25"/><circle cx="1572.81" cy="1122.9" r="6.25"/><circle cx="1574.66" cy="1133.8" r="6.25"/>
<circle cx="1576.5" cy="1220.7" r="6.25"/><circle cx="1578.35" cy="1248.8" r="6.25"/><circle cx="1580.2" cy="1200.8" r="6.25"/><circle cx="1582.04" cy="1266.5" r="6.25"/><circle cx="1583.89" cy="1208" r="6.25"/><circle cx="1585.74" cy="1255.5" r="6.25"/>
<circle cx="1587.58" cy="1224.3" r="6.25"/><circle cx="1589.43" cy="1307.8" r="6.25"/><circle cx="1591.28" cy="1191.7" r="6.25"/><circle cx="1593.12" cy="1207.7" r="6.25"/><circle cx="1594.97" cy="1185.9" r="6.25"/><circle cx="1596.82" cy="1216.2" r="6.25"/>
<circle cx="1598.66" cy="1167.3" r="6.25"/><circle cx="1600.51" cy="1163.3" r="6.25"/><circle cx="1601.31" cy="1223.1" r="6.25"/><circle cx="1604.2" cy="1177.8" r="6.25"/><circle cx="1604.93" cy="1220.7" r="6.25"/><circle cx="1607.9" cy="1240.6" r="6.25"/>
<circle cx="1609.74" cy="1265.4" r="6.25"/><circle cx="1611.59" cy="1151" r="6.25"/><circle cx="1613.44" cy="1227.6" r="6.25"/><circle cx="1615.28" cy="1199" r="6.25"/><circle cx="1617.13" cy="1364.3" r="6.25"/><circle cx="1618.98" cy="1408.7" r="6.25"/>
<circle cx="1620.82" cy="1325.7" r="6.25"/><circle cx="1622.67" cy="1284.1" r="6.25"/><circle cx="1624.52" cy="1311.4" r="6.25"/><circle cx="1626.36" cy="1260.7" r="6.25"/><circle cx="1628.21" cy="1206.2" r="6.25"/><circle cx="1630.06" cy="1216.5" r="6.25"/>
<circle cx="1631.9" cy="1197.2" r="6.25"/><circle cx="1633.75" cy="1149.2" r="6.25"/><circle cx="1635.6" cy="1185.7" r="6.25"/><circle cx="1637.44" cy="1170.9" r="6.25"/><circle cx="1639.29" cy="1069.6" r="6.25"/><circle cx="1641.14" cy="1205.5" r="6.25"/>
<circle cx="1642.98" cy="1264.5" r="6.25"/><circle cx="1644.83" cy="1161.8" r="6.25"/><circle cx="1646.68" cy="1102.6" r="6.25"/><circle cx="1648.52" cy="1189.5" r="6.25"/><circle cx="1650.37" cy="1220.3" r="6.25"/><circle cx="1652.22" cy="1225.2" r="6.25"/>
<circle cx="1654.06" cy="1157.7" r="6.25"/><circle cx="1655.91" cy="1233.6" r="6.25"/><circle cx="1657.76" cy="1337.5" r="6.25"/><circle cx="1659.6" cy="1313.1" r="6.25"/><circle cx="1661.45" cy="1310.4" r="6.25"/><circle cx="1663.3" cy="1248" r="6.25"/>
<circle cx="1665.14" cy="1278.3" r="6.25"/><circle cx="1666.99" cy="1352.9" r="6.25"/><circle cx="1668.84" cy="1268.5" r="6.25"/><circle cx="1670.68" cy="1159.1" r="6.25"/><circle cx="1672.53" cy="1454.5" r="6.25"/><circle cx="1674.38" cy="1140.3" r="6.25"/>
<circle cx="1676.22" cy="1220.9" r="6.25"/><circle cx="1678.07" cy="1278.3" r="6.25"/><circle cx="1679.92" cy="1256.9" r="6.25"/><circle cx="1681.76" cy="1371.4" r="6.25"/><circle cx="1683.61" cy="1233.9" r="6.25"/><circle cx="1685.46" cy="1281" r="6.25"/>
<circle cx="1687.3" cy="1211.8" r="6.25"/><circle cx="1689.15" cy="1249.1" r="6.25"/><circle cx="1691" cy="1265.4" r="6.25"/><circle cx="1692.84" cy="1314" r="6.25"/><circle cx="1694.69" cy="1169.4" r="6.25"/><circle cx="1696.54" cy="1156.9" r="6.25"/>
<circle cx="1698.38" cy="1274.5" r="6.25"/><circle cx="1700.23" cy="1202.9" r="6.25"/><circle cx="1702.08" cy="1218.5" r="6.25"/><circle cx="1703.92" cy="1280.1" r="6.25"/><circle cx="1705.77" cy="1138.3" r="6.25"/><circle cx="1707.62" cy="1128.9" r="6.25"/>
<circle cx="1709.46" cy="1178.1" r="6.25"/><circle cx="1713.16" cy="1157.9" r="6.25"/><circle cx="1715" cy="1229.8" r="6.25"/><circle cx="1716.85" cy="1135.9" r="6.25"/><circle cx="1718.7" cy="1256.7" r="6.25"/><circle cx="1720.54" cy="1238.3" r="6.25"/>
<circle cx="1722.39" cy="1347.8" r="6.25"/><circle cx="1724.23" cy="1222.5" r="6.25"/><circle cx="1726.08" cy="1215.3" r="6.25"/><circle cx="1727.93" cy="1239.4" r="6.25"/><circle cx="1729.77" cy="1257.3" r="6.25"/><circle cx="1731.62" cy="1363.6" r="6.25"/>
<circle cx="1733.47" cy="1264" r="6.25"/><circle cx="1735.31" cy="1127.4" r="6.25"/><circle cx="1737.16" cy="1193" r="6.25"/><circle cx="1739.01" cy="1292.8" r="6.25"/><circle cx="1740.85" cy="1214.9" r="6.25"/><circle cx="1742.7" cy="1272.3" r="6.25"/>
<circle cx="1744.55" cy="1070.4" r="6.25"/><circle cx="1746.39" cy="1131.6" r="6.25"/><circle cx="1748.24" cy="1352" r="6.25"/><circle cx="1750.09" cy="1230.3" r="6.25"/><circle cx="1751.93" cy="1274.1" r="6.25"/><circle cx="1755.63" cy="1287.3" r="6.25"/>
<circle cx="1757.47" cy="1121.8" r="6.25"/><circle cx="1759.32" cy="1134.3" r="6.25"/><circle cx="1761.17" cy="1222.1" r="6.25"/><circle cx="1763.01" cy="1276.7" r="6.25"/><circle cx="1764.86" cy="1257.1" r="6.25"/><circle cx="1766.71" cy="1233.7" r="6.25"/>
<circle cx="1768.55" cy="1223.1" r="6.25"/><circle cx="1770.4" cy="1156.4" r="6.25"/><circle cx="1772.25" cy="1148.3" r="6.25"/><circle cx="1774.09" cy="1193.7" r="6.25"/><circle cx="1775.94" cy="1157.7" r="6.25"/><circle cx="1777.79" cy="1280.3" r="6.25"/>
<circle cx="1779.63" cy="1176" r="6.25"/><circle cx="1781.48" cy="1177.2" r="6.25"/><circle cx="1783.33" cy="1151.5" r="6.25"/><circle cx="1785.17" cy="1223.4" r="6.25"/><circle cx="1787.02" cy="1206.2" r="6.25"/><circle cx="1788.87" cy="1236.6" r="6.25"/>
<circle cx="1790.71" cy="1259.3" r="6.25"/><circle cx="1792.56" cy="1208.6" r="6.25"/><circle cx="1794.41" cy="1255.7" r="6.25"/><circle cx="1796.25" cy="1263.3" r="6.25"/><circle cx="1798.1" cy="1395.4" r="6.25"/><circle cx="1799.95" cy="1302.2" r="6.25"/>
<circle cx="1801.79" cy="1317.6" r="6.25"/><circle cx="1803.64" cy="1276.3" r="6.25"/><circle cx="1805.49" cy="1175.4" r="6.25"/><circle cx="1807.33" cy="1261.1" r="6.25"/><circle cx="1809.18" cy="1333.4" r="6.25"/><circle cx="1811.03" cy="1307.5" r="6.25"/>
<circle cx="1812.87" cy="1260" r="6.25"/><circle cx="1814.72" cy="1141.9" r="6.25"/><circle cx="1816.57" cy="1266" r="6.25"/><circle cx="1818.41" cy="1327.2" r="6.25"/><circle cx="1820.26" cy="1163.3" r="6.25"/><circle cx="1822.11" cy="1182.8" r="6.25"/>
<circle cx="1823.95" cy="1209.3" r="6.25"/><circle cx="1825.8" cy="1261.5" r="6.25"/><circle cx="1827.65" cy="1217.1" r="6.25"/><circle cx="1829.49" cy="1221.6" r="6.25"/><circle cx="1831.34" cy="1319.4" r="6.25"/><circle cx="1833.19" cy="1212.9" r="6.25"/>
<circle cx="1835.03" cy="1400.2" r="6.25"/><circle cx="1836.88" cy="1367.2" r="6.25"/><circle cx="1838.73" cy="1352" r="6.25"/><circle cx="1840.57" cy="1331.5" r="6.25"/><circle cx="1842.42" cy="1346.9" r="6.25"/><circle cx="1844.27" cy="1259.8" r="6.25"/>
<circle cx="1846.11" cy="1352.5" r="6.25"/><circle cx="1847.96" cy="1195.3" r="6.25"/><circle cx="1849.81" cy="1470.6" r="6.25"/><circle cx="1851.65" cy="1435.5" r="6.25"/>
</g>
<path class="fv" d="M226 1028V1672M1883.5 1028V1672"/><path class="fh" d="M222.88 1031.3H1886.62M222.88 1668.85H1886.62"/>
<text class="b" font-size="42.6" text-anchor="middle" transform="translate(258 1735.4) scale(1 1.03)">0</text>
<text class="b" font-size="42.6" text-anchor="middle" transform="translate(390.96 1735.4) scale(1 1.03)">6</text>
<text class="b" font-size="42.6" text-anchor="middle" transform="translate(523.92 1735.4) scale(1 1.03)">12</text>
<text class="b" font-size="42.6" text-anchor="middle" transform="translate(656.88 1735.4) scale(1 1.03)">18</text>
<text class="b" font-size="42.6" text-anchor="middle" transform="translate(789.83 1735.4) scale(1 1.03)">24</text>
<text class="b" font-size="42.6" text-anchor="middle" transform="translate(922.79 1735.4) scale(1 1.03)">30</text>
<text class="b" font-size="42.6" text-anchor="middle" transform="translate(1055.75 1735.4) scale(1 1.03)">36</text>
<text class="b" font-size="42.6" text-anchor="middle" transform="translate(1188.71 1735.4) scale(1 1.03)">42</text>
<text class="b" font-size="42.6" text-anchor="middle" transform="translate(1321.67 1735.4) scale(1 1.03)">48</text>
<text class="b" font-size="42.6" text-anchor="middle" transform="translate(1454.62 1735.4) scale(1 1.03)">54</text>
<text class="b" font-size="42.6" text-anchor="middle" transform="translate(1587.58 1735.4) scale(1 1.03)">60</text>
<text class="b" font-size="42.6" text-anchor="middle" transform="translate(1720.54 1735.4) scale(1 1.03)">66</text>
<text class="b" font-size="42.6" text-anchor="middle" transform="translate(1853.5 1735.4) scale(1 1.03)">72</text>
<text class="b" font-size="42.6" text-anchor="end" transform="translate(190.8 1129) scale(1 1.03)">20</text>
<text class="b" font-size="42.6" text-anchor="end" transform="translate(190.8 1225.6) scale(1 1.03)">10</text>
<text class="b" font-size="42.6" text-anchor="end" transform="translate(190.8 1322.2) scale(1 1.03)">0</text>
<text class="b" font-size="42.6" text-anchor="end" transform="translate(190.8 1418.8) scale(1 1.03)"><tspan dx="0" dy="4.7">−</tspan><tspan dx="-0.3" dy="-4.7">10</tspan></text>
<text class="b" font-size="42.6" text-anchor="end" transform="translate(190.8 1515.4) scale(1 1.03)"><tspan dx="0" dy="4.7">−</tspan><tspan dx="-0.3" dy="-4.7">20</tspan></text>
<text class="b" font-size="42.6" text-anchor="end" transform="translate(190.8 1612) scale(1 1.03)"><tspan dx="0" dy="4.7">−</tspan><tspan dx="-0.3" dy="-4.7">30</tspan></text>
<text font-size="42.55" text-anchor="middle" transform="translate(89.9 1349.75) rotate(-90) scale(1 1.03)">North (mm)</text>
</g>
<g id="panel3">
<path class="tk" d="M258 1847.4V1828.2M258 2484.95V2503.9M302.32 1847.4V1837M302.32 2484.95V2495.1M346.64 1847.4V1837M346.64 2484.95V2495.1M390.96 1847.4V1828.2M390.96 2484.95V2503.9M435.28 1847.4V1837M435.28 2484.95V2495.1M479.6 1847.4V1837M479.6 2484.95V2495.1M523.92 1847.4V1828.2M523.92 2484.95V2503.9M568.24 1847.4V1837M568.24 2484.95V2495.1M612.56 1847.4V1837M612.56 2484.95V2495.1M656.88 1847.4V1828.2M656.88 2484.95V2503.9M701.19 1847.4V1837M701.19 2484.95V2495.1M745.51 1847.4V1837M745.51 2484.95V2495.1M789.83 1847.4V1828.2M789.83 2484.95V2503.9M834.15 1847.4V1837M834.15 2484.95V2495.1M878.47 1847.4V1837M878.47 2484.95V2495.1M922.79 1847.4V1828.2M922.79 2484.95V2503.9M967.11 1847.4V1837M967.11 2484.95V2495.1M1011.43 1847.4V1837M1011.43 2484.95V2495.1M1055.75 1847.4V1828.2M1055.75 2484.95V2503.9M1100.07 1847.4V1837M1100.07 2484.95V2495.1M1144.39 1847.4V1837M1144.39 2484.95V2495.1M1188.71 1847.4V1828.2M1188.71 2484.95V2503.9M1233.03 1847.4V1837M1233.03 2484.95V2495.1M1277.35 1847.4V1837M1277.35 2484.95V2495.1M1321.67 1847.4V1828.2M1321.67 2484.95V2503.9M1365.99 1847.4V1837M1365.99 2484.95V2495.1M1410.31 1847.4V1837M1410.31 2484.95V2495.1M1454.62 1847.4V1828.2M1454.62 2484.95V2503.9M1498.94 1847.4V1837M1498.94 2484.95V2495.1M1543.26 1847.4V1837M1543.26 2484.95V2495.1M1587.58 1847.4V1828.2M1587.58 2484.95V2503.9M1631.9 1847.4V1837M1631.9 2484.95V2495.1M1676.22 1847.4V1837M1676.22 2484.95V2495.1M1720.54 1847.4V1828.2M1720.54 2484.95V2503.9M1764.86 1847.4V1837M1764.86 2484.95V2495.1M1809.18 1847.4V1837M1809.18 2484.95V2495.1M1853.5 1847.4V1828.2M1853.5 2484.95V2503.9M226 1891.6h-18.8M1883.5 1891.6h18.8M226 2002.7h-18.8M1883.5 2002.7h18.8M226 2114.5h-18.8M1883.5 2114.5h18.8M226 2226.2h-18.8M1883.5 2226.2h18.8M226 2337.7h-18.8M1883.5 2337.7h18.8M226 2449.4h-18.8M1883.5 2449.4h18.8"/>
<g class="d">
<circle cx="258" cy="2225.8" r="6.25"/><circle cx="261.69" cy="2278.1" r="6.25"/><circle cx="263.54" cy="2291.7" r="6.25"/><circle cx="265.39" cy="2384.2" r="6.25"/><circle cx="267.23" cy="2242.8" r="6.25"/><circle cx="269.08" cy="2185.9" r="6.25"/>
<circle cx="270.93" cy="2222.5" r="6.25"/><circle cx="272.77" cy="2323.4" r="6.25"/><circle cx="274.62" cy="2274.1" r="6.25"/><circle cx="276.47" cy="2345.8" r="6.25"/><circle cx="278.31" cy="2242.1" r="6.25"/><circle cx="280.16" cy="2326.5" r="6.25"/>
<circle cx="283.85" cy="2261.6" r="6.25"/><circle cx="285.7" cy="2274.8" r="6.25"/><circle cx="287.55" cy="2261.3" r="6.25"/><circle cx="289.39" cy="2235.2" r="6.25"/><circle cx="291.24" cy="2173.8" r="6.25"/><circle cx="293.09" cy="2175.6" r="6.25"/>
<circle cx="294.93" cy="2257.1" r="6.25"/><circle cx="296.78" cy="2202.2" r="6.25"/><circle cx="298.63" cy="2226.5" r="6.25"/><circle cx="300.47" cy="2383.1" r="6.25"/><circle cx="302.32" cy="1982" r="6.25"/><circle cx="304.17" cy="2014.6" r="6.25"/>
<circle cx="306.01" cy="2135.8" r="6.25"/><circle cx="307.86" cy="2121.5" r="6.25"/><circle cx="309.71" cy="2293.1" r="6.25"/><circle cx="311.55" cy="2309.1" r="6.25"/><circle cx="313.4" cy="2200" r="6.25"/><circle cx="315.25" cy="2044.3" r="6.25"/>
<circle cx="317.09" cy="2290" r="6.25"/><circle cx="318.94" cy="1999.9" r="6.25"/><circle cx="320.79" cy="2061.1" r="6.25"/><circle cx="322.63" cy="2226.7" r="6.25"/><circle cx="324.48" cy="2158.6" r="6.25"/><circle cx="326.33" cy="2096.3" r="6.25"/>
<circle cx="328.17" cy="2283" r="6.25"/><circle cx="330.02" cy="2297.3" r="6.25"/><circle cx="331.87" cy="2192.2" r="6.25"/><circle cx="333.71" cy="2278.8" r="6.25"/><circle cx="335.56" cy="2240.4" r="6.25"/><circle cx="337.41" cy="2291.5" r="6.25"/>
<circle cx="339.25" cy="2303.6" r="6.25"/><circle cx="341.1" cy="2211.4" r="6.25"/><circle cx="342.95" cy="2225.8" r="6.25"/><circle cx="344.79" cy="2198.2" r="6.25"/><circle cx="346.64" cy="2143.7" r="6.25"/><circle cx="348.49" cy="2223.2" r="6.25"/>
<circle cx="350.33" cy="2300" r="6.25"/><circle cx="352.18" cy="2256.7" r="6.25"/><circle cx="354.03" cy="2343.8" r="6.25"/><circle cx="355.87" cy="2244" r="6.25"/><circle cx="357.72" cy="2287" r="6.25"/><circle cx="359.57" cy="2268.5" r="6.25"/>
<circle cx="361.41" cy="2292.8" r="6.25"/><circle cx="363.26" cy="2132.7" r="6.25"/><circle cx="365.11" cy="2135" r="6.25"/><circle cx="366.95" cy="2262.7" r="6.25"/><circle cx="368.8" cy="2204.2" r="6.25"/><circle cx="370.65" cy="2177.8" r="6.25"/>
<circle cx="372.49" cy="2012.4" r="6.25"/><circle cx="374.34" cy="2282.3" r="6.25"/><circle cx="376.19" cy="2150.3" r="6.25"/><circle cx="378.03" cy="2164.1" r="6.25"/><circle cx="379.88" cy="1915.5" r="6.25"/><circle cx="381.73" cy="2172.3" r="6.25"/>
<circle cx="383.57" cy="2061.1" r="6.25"/><circle cx="385.42" cy="2079.4" r="6.25"/><circle cx="387.27" cy="1958.5" r="6.25"/><circle cx="389.11" cy="2130.9" r="6.25"/><circle cx="390.96" cy="2242.1" r="6.25"/><circle cx="392.8" cy="2047" r="6.25"/>
<circle cx="394.65" cy="2078.7" r="6.25"/><circle cx="396.5" cy="2152.6" r="6.25"/><circle cx="398.34" cy="2224.5" r="6.25"/><circle cx="400.19" cy="2236.3" r="6.25"/><circle cx="402.04" cy="2118.2" r="6.25"/><circle cx="403.88" cy="2097.4" r="6.25"/>
<circle cx="405.73" cy="2098.8" r="6.25"/><circle cx="407.58" cy="2031.1" r="6.25"/><circle cx="409.42" cy="2060.4" r="6.25"/><circle cx="411.27" cy="2195.5" r="6.25"/><circle cx="413.12" cy="2082.3" r="6.25"/><circle cx="414.96" cy="2159.9" r="6.25"/>
<circle cx="416.81" cy="2109.7" r="6.25"/><circle cx="418.66" cy="2046.3" r="6.25"/><circle cx="420.5" cy="2122" r="6.25"/><circle cx="422.35" cy="2028" r="6.25"/><circle cx="424.2" cy="2183.9" r="6.25"/><circle cx="426.04" cy="2110.1" r="6.25"/>
<circle cx="427.89" cy="2048.3" r="6.25"/><circle cx="429.74" cy="2158.4" r="6.25"/><circle cx="431.58" cy="2143.9" r="6.25"/><circle cx="433.43" cy="2223.9" r="6.25"/><circle cx="435.28" cy="2128.2" r="6.25"/><circle cx="437.12" cy="2260" r="6.25"/>
<circle cx="438.97" cy="1939.6" r="6.25"/><circle cx="440.82" cy="2093.4" r="6.25"/><circle cx="442.66" cy="2399.4" r="6.25"/><circle cx="444.51" cy="2126.9" r="6.25"/><circle cx="446.36" cy="2145.7" r="6.25"/><circle cx="448.2" cy="2180.7" r="6.25"/>
<circle cx="450.05" cy="2174.3" r="6.25"/><circle cx="451.9" cy="2131.4" r="6.25"/><circle cx="453.74" cy="2199.5" r="6.25"/><circle cx="455.59" cy="2219.6" r="6.25"/><circle cx="457.44" cy="2153.5" r="6.25"/><circle cx="459.28" cy="2167.3" r="6.25"/>
<circle cx="461.13" cy="2221.8" r="6.25"/><circle cx="462.98" cy="2176.5" r="6.25"/><circle cx="464.82" cy="2235.2" r="6.25"/><circle cx="466.67" cy="2272.8" r="6.25"/><circle cx="468.52" cy="2263.4" r="6.25"/><circle cx="470.36" cy="2170.2" r="6.25"/>
<circle cx="472.21" cy="2328.6" r="6.25"/><circle cx="474.06" cy="2199.3" r="6.25"/><circle cx="475.9" cy="2119.1" r="6.25"/><circle cx="477.75" cy="2147.7" r="6.25"/><circle cx="479.6" cy="2286.4" r="6.25"/><circle cx="481.44" cy="2232.1" r="6.25"/>
<circle cx="483.29" cy="2154.4" r="6.25"/><circle cx="485.14" cy="2189.7" r="6.25"/><circle cx="486.98" cy="2256.2" r="6.25"/><circle cx="488.83" cy="2118.2" r="6.25"/><circle cx="490.68" cy="2242.1" r="6.25"/><circle cx="492.52" cy="2152.3" r="6.25"/>
<circle cx="494.37" cy="2193.2" r="6.25"/><circle cx="496.22" cy="2001.2" r="6.25"/><circle cx="498.06" cy="2060.2" r="6.25"/><circle cx="499.91" cy="2198.8" r="6.25"/><circle cx="501.76" cy="2131.2" r="6.25"/><circle cx="503.6" cy="1980.2" r="6.25"/>
<circle cx="505.45" cy="2055.4" r="6.25"/><circle cx="507.3" cy="2297.3" r="6.25"/><circle cx="509.14" cy="2056.1" r="6.25"/><circle cx="509.84" cy="2166.1" r="6.25"/><circle cx="512.84" cy="2158.6" r="6.25"/><circle cx="516.53" cy="2140.8" r="6.25"/>
<circle cx="518.38" cy="2261.1" r="6.25"/><circle cx="520.22" cy="2134.5" r="6.25"/><circle cx="522.07" cy="2272.1" r="6.25"/><circle cx="523.92" cy="2198.2" r="6.25"/><circle cx="525.76" cy="2214.9" r="6.25"/><circle cx="527.61" cy="2059.3" r="6.25"/>
<circle cx="529.46" cy="2128.3" r="6.25"/><circle cx="531.3" cy="2205.5" r="6.25"/><circle cx="533.15" cy="2277.4" r="6.25"/><circle cx="535" cy="2065.1" r="6.25"/><circle cx="536.84" cy="2109.5" r="6.25"/><circle cx="538.69" cy="2162.9" r="6.25"/>
<circle cx="540.54" cy="2155.9" r="6.25"/><circle cx="542.38" cy="2164.4" r="6.25"/><circle cx="544.23" cy="2221.4" r="6.25"/><circle cx="546.08" cy="2061.1" r="6.25"/><circle cx="547.92" cy="2176.1" r="6.25"/><circle cx="549.77" cy="2255.6" r="6.25"/>
<circle cx="551.62" cy="2153.9" r="6.25"/><circle cx="553.46" cy="2218.7" r="6.25"/><circle cx="555.31" cy="2245" r="6.25"/><circle cx="557.16" cy="2202.2" r="6.25"/><circle cx="559" cy="2280.3" r="6.25"/><circle cx="560.85" cy="2189.2" r="6.25"/>
<circle cx="562.7" cy="2182.8" r="6.25"/><circle cx="564.54" cy="2262.2" r="6.25"/><circle cx="566.39" cy="2367.4" r="6.25"/><circle cx="568.24" cy="2142.5" r="6.25"/><circle cx="570.08" cy="2262.9" r="6.25"/><circle cx="571.93" cy="2171.4" r="6.25"/>
<circle cx="573.78" cy="2437.3" r="6.25"/><circle cx="575.62" cy="2395.5" r="6.25"/><circle cx="577.47" cy="2142.5" r="6.25"/><circle cx="579.32" cy="1859.4" r="6.25"/><circle cx="581.16" cy="2265.2" r="6.25"/><circle cx="583.01" cy="2097" r="6.25"/>
<circle cx="584.86" cy="2229.4" r="6.25"/><circle cx="586.7" cy="2164.7" r="6.25"/><circle cx="588.55" cy="2021.5" r="6.25"/><circle cx="590.4" cy="2124.5" r="6.25"/><circle cx="592.24" cy="2180.1" r="6.25"/><circle cx="595.81" cy="2174.7" r="6.25"/>
<circle cx="595.94" cy="2155.3" r="6.25"/><circle cx="597.78" cy="2149" r="6.25"/><circle cx="599.63" cy="2168.7" r="6.25"/><circle cx="601.48" cy="1977.3" r="6.25"/><circle cx="603.32" cy="2099.4" r="6.25"/><circle cx="605.17" cy="2003.6" r="6.25"/>
<circle cx="607.02" cy="2131.4" r="6.25"/><circle cx="608.86" cy="2261.3" r="6.25"/><circle cx="610.71" cy="2160.8" r="6.25"/><circle cx="612.56" cy="2169.6" r="6.25"/><circle cx="614.4" cy="2276.1" r="6.25"/><circle cx="616.25" cy="2281.2" r="6.25"/>
<circle cx="618.1" cy="2224.5" r="6.25"/><circle cx="619.94" cy="2218.5" r="6.25"/><circle cx="621.79" cy="2205.8" r="6.25"/><circle cx="623.64" cy="2203.7" r="6.25"/><circle cx="625.48" cy="2156.2" r="6.25"/><circle cx="627.33" cy="2071.8" r="6.25"/>
<circle cx="629.18" cy="2112.9" r="6.25"/><circle cx="631.02" cy="2131.1" r="6.25"/><circle cx="632.87" cy="2290.6" r="6.25"/><circle cx="634.72" cy="2151.7" r="6.25"/><circle cx="636.56" cy="2178.7" r="6.25"/><circle cx="638.41" cy="2148.1" r="6.25"/>
<circle cx="640.26" cy="2159.5" r="6.25"/><circle cx="642.1" cy="2067.5" r="6.25"/><circle cx="643.95" cy="2247.1" r="6.25"/><circle cx="645.8" cy="2204" r="6.25"/><circle cx="647.64" cy="2351.6" r="6.25"/><circle cx="649.49" cy="2118.4" r="6.25"/>
<circle cx="651.34" cy="2278.3" r="6.25"/><circle cx="653.18" cy="2168.9" r="6.25"/><circle cx="655.03" cy="2236.8" r="6.25"/><circle cx="656.88" cy="2099.2" r="6.25"/><circle cx="658.72" cy="2113.1" r="6.25"/><circle cx="660.57" cy="2023.8" r="6.25"/>
<circle cx="662.41" cy="2147.2" r="6.25"/><circle cx="664.26" cy="2068.4" r="6.25"/><circle cx="666.11" cy="1975.7" r="6.25"/><circle cx="667.95" cy="2036.5" r="6.25"/><circle cx="669.8" cy="2139.4" r="6.25"/><circle cx="671.65" cy="2168.7" r="6.25"/>
<circle cx="673.49" cy="2227.2" r="6.25"/><circle cx="675.34" cy="2152.8" r="6.25"/><circle cx="677.19" cy="2101" r="6.25"/><circle cx="679.03" cy="2072" r="6.25"/><circle cx="680.88" cy="2125.4" r="6.25"/><circle cx="682.73" cy="2132.3" r="6.25"/>
<circle cx="684.57" cy="2241.7" r="6.25"/><circle cx="686.42" cy="2024" r="6.25"/><circle cx="688.27" cy="2079.3" r="6.25"/><circle cx="690.11" cy="2094.7" r="6.25"/><circle cx="691.96" cy="2015" r="6.25"/><circle cx="693.81" cy="2022.6" r="6.25"/>
<circle cx="695.65" cy="2134.1" r="6.25"/><circle cx="697.5" cy="2141.7" r="6.25"/><circle cx="699.35" cy="2117.7" r="6.25"/><circle cx="701.19" cy="2052.3" r="6.25"/><circle cx="703.04" cy="2034.2" r="6.25"/><circle cx="704.89" cy="2144.5" r="6.25"/>
<circle cx="706.73" cy="2210.9" r="6.25"/><circle cx="708.58" cy="2091.9" r="6.25"/><circle cx="710.43" cy="2129.4" r="6.25"/><circle cx="712.27" cy="2095" r="6.25"/><circle cx="714.12" cy="2027.3" r="6.25"/><circle cx="715.97" cy="2148.3" r="6.25"/>
<circle cx="717.81" cy="2086.9" r="6.25"/><circle cx="719.66" cy="2172.5" r="6.25"/><circle cx="721.51" cy="2352.4" r="6.25"/><circle cx="723.35" cy="2240.2" r="6.25"/><circle cx="725.2" cy="2248.6" r="6.25"/><circle cx="727.05" cy="2340.2" r="6.25"/>
<circle cx="728.89" cy="2267.4" r="6.25"/><circle cx="730.74" cy="2249.8" r="6.25"/><circle cx="732.59" cy="2255.3" r="6.25"/><circle cx="734.43" cy="2223" r="6.25"/><circle cx="736.28" cy="2240.2" r="6.25"/><circle cx="738.13" cy="2077.8" r="6.25"/>
<circle cx="739.97" cy="2326.8" r="6.25"/><circle cx="740.7" cy="2229.9" r="6.25"/><circle cx="743.67" cy="2223.2" r="6.25"/><circle cx="745.51" cy="2295.5" r="6.25"/><circle cx="747.36" cy="2234.4" r="6.25"/><circle cx="749.21" cy="2267" r="6.25"/>
<circle cx="751.05" cy="2276.1" r="6.25"/><circle cx="751.57" cy="2272.5" r="6.25"/><circle cx="754.65" cy="2195.1" r="6.25"/><circle cx="754.75" cy="2268.9" r="6.25"/><circle cx="756.1" cy="2255.3" r="6.25"/><circle cx="760.29" cy="2263.4" r="6.25"/>
<circle cx="760.45" cy="2180.3" r="6.25"/><circle cx="762.44" cy="2258.9" r="6.25"/><circle cx="763.89" cy="2278.8" r="6.25"/><circle cx="766.06" cy="2195.5" r="6.25"/><circle cx="767.69" cy="2411.4" r="6.25"/><circle cx="769.32" cy="2226.8" r="6.25"/>
<circle cx="771.49" cy="2266.5" r="6.25"/><circle cx="773.31" cy="2183.2" r="6.25"/><circle cx="774.76" cy="2294.4" r="6.25"/><circle cx="776.93" cy="2253.5" r="6.25"/><circle cx="778.53" cy="2324.1" r="6.25"/><circle cx="780.52" cy="2133.6" r="6.25"/>
<circle cx="782.15" cy="2309.6" r="6.25"/><circle cx="783.96" cy="2185.2" r="6.25"/><circle cx="786.14" cy="2102.3" r="6.25"/><circle cx="788.13" cy="2306.9" r="6.25"/><circle cx="789.76" cy="2144.5" r="6.25"/><circle cx="791.57" cy="2344.9" r="6.25"/>
<circle cx="793.38" cy="2239" r="6.25"/><circle cx="795.37" cy="2199.1" r="6.25"/><circle cx="797.36" cy="2361.6" r="6.25"/><circle cx="800.91" cy="2335.5" r="6.25"/><circle cx="802.76" cy="2203.3" r="6.25"/><circle cx="804.61" cy="2261.6" r="6.25"/>
<circle cx="806.45" cy="2155.3" r="6.25"/><circle cx="808.3" cy="2224.8" r="6.25"/><circle cx="810.15" cy="2258" r="6.25"/><circle cx="811.99" cy="2192.4" r="6.25"/><circle cx="813.84" cy="2249.8" r="6.25"/><circle cx="817.53" cy="2259.4" r="6.25"/>
<circle cx="819.38" cy="2224.3" r="6.25"/><circle cx="821.23" cy="2105.5" r="6.25"/><circle cx="823.07" cy="2035.6" r="6.25"/><circle cx="824.92" cy="2096.8" r="6.25"/><circle cx="826.77" cy="2023.1" r="6.25"/><circle cx="828.61" cy="2060.4" r="6.25"/>
<circle cx="830.46" cy="2166.8" r="6.25"/><circle cx="832.31" cy="1864.1" r="6.25"/><circle cx="834.15" cy="2205.1" r="6.25"/><circle cx="836" cy="2263.8" r="6.25"/><circle cx="837.85" cy="2229.2" r="6.25"/><circle cx="839.69" cy="2026" r="6.25"/>
<circle cx="841.54" cy="2044.8" r="6.25"/><circle cx="843.39" cy="2415.6" r="6.25"/><circle cx="845.23" cy="2308" r="6.25"/><circle cx="847.08" cy="2197.3" r="6.25"/><circle cx="848.93" cy="2104.3" r="6.25"/><circle cx="850.77" cy="2183.2" r="6.25"/>
<circle cx="852.62" cy="2240.8" r="6.25"/><circle cx="854.47" cy="2153.2" r="6.25"/><circle cx="856.31" cy="2119.1" r="6.25"/><circle cx="858.16" cy="2139.9" r="6.25"/><circle cx="861.85" cy="2159.3" r="6.25"/><circle cx="863.7" cy="2226.3" r="6.25"/>
<circle cx="865.55" cy="2255.3" r="6.25"/><circle cx="867.39" cy="2144.8" r="6.25"/><circle cx="869.24" cy="2055.7" r="6.25"/><circle cx="871.09" cy="2317.8" r="6.25"/><circle cx="872.93" cy="2149.9" r="6.25"/><circle cx="874.78" cy="2179.2" r="6.25"/>
<circle cx="876.63" cy="2278.5" r="6.25"/><circle cx="878.47" cy="2292.4" r="6.25"/><circle cx="880.32" cy="2275.7" r="6.25"/><circle cx="882.17" cy="2209.1" r="6.25"/><circle cx="884.01" cy="2181.6" r="6.25"/><circle cx="885.86" cy="2198.8" r="6.25"/>
<circle cx="887.71" cy="2224.8" r="6.25"/><circle cx="889.55" cy="2195.1" r="6.25"/><circle cx="891.4" cy="2233" r="6.25"/><circle cx="893.25" cy="2168" r="6.25"/><circle cx="895.09" cy="2057.5" r="6.25"/><circle cx="896.94" cy="2253.6" r="6.25"/>
<circle cx="898.79" cy="2396" r="6.25"/><circle cx="900.63" cy="2244.6" r="6.25"/><circle cx="902.48" cy="1881.1" r="6.25"/><circle cx="904.33" cy="2329" r="6.25"/><circle cx="906.17" cy="2135.8" r="6.25"/><circle cx="908.02" cy="1990.9" r="6.25"/>
<circle cx="909.87" cy="2168.3" r="6.25"/><circle cx="911.71" cy="2031.6" r="6.25"/><circle cx="913.56" cy="2169.8" r="6.25"/><circle cx="915.41" cy="2116.9" r="6.25"/><circle cx="917.25" cy="2017.9" r="6.25"/><circle cx="919.1" cy="2039.1" r="6.25"/>
<circle cx="920.95" cy="1995" r="6.25"/><circle cx="922.79" cy="1924" r="6.25"/><circle cx="926.48" cy="1994.5" r="6.25"/><circle cx="928.33" cy="1986.9" r="6.25"/><circle cx="930.18" cy="2006.5" r="6.25"/><circle cx="932.02" cy="2089.8" r="6.25"/>
<circle cx="933.87" cy="2117.7" r="6.25"/><circle cx="935.72" cy="2096.8" r="6.25"/><circle cx="937.56" cy="2136.3" r="6.25"/><circle cx="939.41" cy="2030.9" r="6.25"/><circle cx="941.26" cy="2210.2" r="6.25"/><circle cx="943.1" cy="2116.4" r="6.25"/>
<circle cx="944.95" cy="2078.9" r="6.25"/><circle cx="946.8" cy="2194.6" r="6.25"/><circle cx="948.64" cy="2080.7" r="6.25"/><circle cx="950.49" cy="2168.3" r="6.25"/><circle cx="952.34" cy="2136" r="6.25"/><circle cx="954.18" cy="2195.9" r="6.25"/>
<circle cx="956.03" cy="2063.9" r="6.25"/><circle cx="957.88" cy="2126.4" r="6.25"/><circle cx="959.72" cy="2237.2" r="6.25"/><circle cx="961.57" cy="2161.1" r="6.25"/><circle cx="963.42" cy="2202.2" r="6.25"/><circle cx="965.26" cy="2271" r="6.25"/>
<circle cx="967.11" cy="2287.3" r="6.25"/><circle cx="968.96" cy="2116.4" r="6.25"/><circle cx="970.8" cy="1988.3" r="6.25"/><circle cx="972.65" cy="2280.3" r="6.25"/><circle cx="974.5" cy="2099.2" r="6.25"/><circle cx="976.34" cy="2374.4" r="6.25"/>
<circle cx="978.19" cy="2203.3" r="6.25"/><circle cx="980.04" cy="2178.3" r="6.25"/><circle cx="981.88" cy="2054.3" r="6.25"/><circle cx="983.73" cy="2170.5" r="6.25"/><circle cx="985.58" cy="2180.5" r="6.25"/><circle cx="987.42" cy="2102.3" r="6.25"/>
<circle cx="989.27" cy="2210" r="6.25"/><circle cx="991.12" cy="2193.7" r="6.25"/><circle cx="992.96" cy="2089.9" r="6.25"/><circle cx="994.81" cy="2214.5" r="6.25"/><circle cx="996.66" cy="2182.5" r="6.25"/><circle cx="998.5" cy="2267" r="6.25"/>
<circle cx="1000.35" cy="2344.9" r="6.25"/><circle cx="1002.2" cy="2068.6" r="6.25"/><circle cx="1004.04" cy="2332.2" r="6.25"/><circle cx="1005.89" cy="2208.7" r="6.25"/><circle cx="1007.74" cy="2172.3" r="6.25"/><circle cx="1009.58" cy="2185.5" r="6.25"/>
<circle cx="1011.43" cy="2241.1" r="6.25"/><circle cx="1013.28" cy="2201.5" r="6.25"/><circle cx="1015.12" cy="2215.4" r="6.25"/><circle cx="1018.52" cy="2220" r="6.25"/><circle cx="1018.82" cy="2132.3" r="6.25"/><circle cx="1020.66" cy="2224.5" r="6.25"/>
<circle cx="1022.51" cy="2108.2" r="6.25"/><circle cx="1024.36" cy="2245.1" r="6.25"/><circle cx="1026.2" cy="2114" r="6.25"/><circle cx="1028.05" cy="2143.4" r="6.25"/><circle cx="1029.9" cy="2182.3" r="6.25"/><circle cx="1031.74" cy="2173.4" r="6.25"/>
<circle cx="1033.59" cy="2070.4" r="6.25"/><circle cx="1035.44" cy="2038" r="6.25"/><circle cx="1037.28" cy="2120.9" r="6.25"/><circle cx="1040.25" cy="2124.5" r="6.25"/><circle cx="1040.98" cy="2176.5" r="6.25"/><circle cx="1042.82" cy="2279.4" r="6.25"/>
<circle cx="1044.67" cy="2127.3" r="6.25"/><circle cx="1046.52" cy="2173.2" r="6.25"/><circle cx="1048.36" cy="2147.7" r="6.25"/><circle cx="1050.21" cy="2201.1" r="6.25"/><circle cx="1052.06" cy="2135" r="6.25"/><circle cx="1053.9" cy="2071" r="6.25"/>
<circle cx="1055.75" cy="2180.1" r="6.25"/><circle cx="1057.6" cy="2148.4" r="6.25"/><circle cx="1059.44" cy="2112.4" r="6.25"/><circle cx="1061.29" cy="2203.3" r="6.25"/><circle cx="1063.14" cy="2182.8" r="6.25"/><circle cx="1064.98" cy="2134.9" r="6.25"/>
<circle cx="1066.83" cy="2189.5" r="6.25"/><circle cx="1068.68" cy="2159.3" r="6.25"/><circle cx="1070.52" cy="2254" r="6.25"/><circle cx="1072.37" cy="2250.2" r="6.25"/><circle cx="1074.22" cy="2146.8" r="6.25"/><circle cx="1074.45" cy="2133.6" r="6.25"/>
<circle cx="1077.91" cy="2253.1" r="6.25"/><circle cx="1079.76" cy="2130.9" r="6.25"/><circle cx="1081.6" cy="2296.2" r="6.25"/><circle cx="1083.45" cy="2195.9" r="6.25"/><circle cx="1085.3" cy="2208.9" r="6.25"/><circle cx="1087.14" cy="2234.3" r="6.25"/>
<circle cx="1088.99" cy="2177.4" r="6.25"/><circle cx="1090.84" cy="2139" r="6.25"/><circle cx="1092.68" cy="2292" r="6.25"/><circle cx="1094.53" cy="2185.5" r="6.25"/><circle cx="1096.38" cy="1983.1" r="6.25"/><circle cx="1098.22" cy="2194.6" r="6.25"/>
<circle cx="1100.07" cy="2016.2" r="6.25"/><circle cx="1101.92" cy="2108.6" r="6.25"/><circle cx="1103.76" cy="2231.9" r="6.25"/><circle cx="1105.61" cy="2087.6" r="6.25"/><circle cx="1107.46" cy="2279.9" r="6.25"/><circle cx="1109.3" cy="2181.9" r="6.25"/>
<circle cx="1111.15" cy="2197.7" r="6.25"/><circle cx="1113" cy="2190.6" r="6.25"/><circle cx="1114.84" cy="2072.2" r="6.25"/><circle cx="1116.69" cy="2236.1" r="6.25"/><circle cx="1118.54" cy="2165.6" r="6.25"/><circle cx="1120.38" cy="2050.6" r="6.25"/>
<circle cx="1122.23" cy="2003.4" r="6.25"/><circle cx="1124.08" cy="2089.2" r="6.25"/><circle cx="1125.92" cy="2082" r="6.25"/><circle cx="1127.77" cy="2098.3" r="6.25"/><circle cx="1129.62" cy="2095.6" r="6.25"/><circle cx="1131.46" cy="2037.2" r="6.25"/>
<circle cx="1133.31" cy="2185.5" r="6.25"/><circle cx="1135.16" cy="2189.7" r="6.25"/><circle cx="1137" cy="2065.3" r="6.25"/><circle cx="1138.85" cy="2152.6" r="6.25"/><circle cx="1140.7" cy="2220.1" r="6.25"/><circle cx="1142.54" cy="2268.3" r="6.25"/>
<circle cx="1144.39" cy="2187.4" r="6.25"/><circle cx="1146.24" cy="2161.7" r="6.25"/><circle cx="1148.08" cy="2081.1" r="6.25"/><circle cx="1149.93" cy="2259.6" r="6.25"/><circle cx="1151.78" cy="2120.9" r="6.25"/><circle cx="1153.62" cy="2207.1" r="6.25"/>
<circle cx="1155.47" cy="2098.5" r="6.25"/><circle cx="1157.32" cy="2111.5" r="6.25"/><circle cx="1159.16" cy="2067.1" r="6.25"/><circle cx="1161.01" cy="2068" r="6.25"/><circle cx="1162.86" cy="2255.6" r="6.25"/><circle cx="1164.7" cy="2241.9" r="6.25"/>
<circle cx="1166.55" cy="2131.2" r="6.25"/><circle cx="1168.4" cy="1992.9" r="6.25"/><circle cx="1170.24" cy="2274.5" r="6.25"/><circle cx="1172.09" cy="2014.1" r="6.25"/><circle cx="1173.94" cy="2048.8" r="6.25"/><circle cx="1175.78" cy="1923.9" r="6.25"/>
<circle cx="1177.63" cy="2105" r="6.25"/><circle cx="1179.48" cy="2246" r="6.25"/><circle cx="1181.32" cy="2106.1" r="6.25"/><circle cx="1183.17" cy="2138.5" r="6.25"/><circle cx="1185.02" cy="2144.5" r="6.25"/><circle cx="1188.02" cy="2139.9" r="6.25"/>
<circle cx="1188.71" cy="2183.2" r="6.25"/><circle cx="1190.55" cy="2229.6" r="6.25"/><circle cx="1192.4" cy="2076.2" r="6.25"/><circle cx="1194.25" cy="2098.3" r="6.25"/><circle cx="1196.09" cy="2150.3" r="6.25"/><circle cx="1197.94" cy="2132.9" r="6.25"/>
<circle cx="1199.79" cy="2051.7" r="6.25"/><circle cx="1201.63" cy="2266.1" r="6.25"/><circle cx="1203.48" cy="2159.3" r="6.25"/><circle cx="1205.33" cy="2199.5" r="6.25"/><circle cx="1207.17" cy="2245.7" r="6.25"/><circle cx="1209.02" cy="2178.8" r="6.25"/>
<circle cx="1210.87" cy="2159.9" r="6.25"/><circle cx="1212.71" cy="2083.4" r="6.25"/><circle cx="1214.56" cy="2149.9" r="6.25"/><circle cx="1216.41" cy="2079.3" r="6.25"/><circle cx="1218.25" cy="2033.6" r="6.25"/><circle cx="1220.1" cy="2209.8" r="6.25"/>
<circle cx="1221.95" cy="2011" r="6.25"/><circle cx="1223.79" cy="2067.1" r="6.25"/><circle cx="1225.64" cy="2032.2" r="6.25"/><circle cx="1227.49" cy="2057.2" r="6.25"/><circle cx="1229.33" cy="2140.5" r="6.25"/><circle cx="1231.18" cy="2073.3" r="6.25"/>
<circle cx="1233.03" cy="2103.7" r="6.25"/><circle cx="1234.87" cy="2166.6" r="6.25"/><circle cx="1236.72" cy="2102.3" r="6.25"/><circle cx="1238.57" cy="2113.1" r="6.25"/><circle cx="1239.27" cy="2152.1" r="6.25"/><circle cx="1244.11" cy="2156.2" r="6.25"/>
<circle cx="1245.95" cy="2070.6" r="6.25"/><circle cx="1247.8" cy="2145.9" r="6.25"/><circle cx="1249.65" cy="2153.2" r="6.25"/><circle cx="1251.49" cy="2190.1" r="6.25"/><circle cx="1253.34" cy="2159.3" r="6.25"/><circle cx="1255.19" cy="2004.3" r="6.25"/>
<circle cx="1257.03" cy="2242.6" r="6.25"/><circle cx="1258.88" cy="2133.2" r="6.25"/><circle cx="1260.73" cy="2300.9" r="6.25"/><circle cx="1262.57" cy="2151.7" r="6.25"/><circle cx="1264.42" cy="2211.1" r="6.25"/><circle cx="1266.27" cy="2189.2" r="6.25"/>
<circle cx="1268.11" cy="2035.3" r="6.25"/><circle cx="1269.96" cy="2158" r="6.25"/><circle cx="1271.81" cy="2114" r="6.25"/><circle cx="1271.88" cy="2178.3" r="6.25"/><circle cx="1275.5" cy="2252.6" r="6.25"/><circle cx="1277.35" cy="2174.3" r="6.25"/>
<circle cx="1279.19" cy="2260.7" r="6.25"/><circle cx="1280.03" cy="2185.5" r="6.25"/><circle cx="1282.89" cy="2324.3" r="6.25"/><circle cx="1284.73" cy="2186.5" r="6.25"/><circle cx="1286.58" cy="2138.7" r="6.25"/><circle cx="1288.43" cy="2058.3" r="6.25"/>
<circle cx="1290.27" cy="2092.5" r="6.25"/><circle cx="1292.12" cy="2049.4" r="6.25"/><circle cx="1293.97" cy="2169.8" r="6.25"/><circle cx="1295.81" cy="1934.7" r="6.25"/><circle cx="1297.66" cy="2382.2" r="6.25"/><circle cx="1299.51" cy="2205.6" r="6.25"/>
<circle cx="1301.35" cy="2061.1" r="6.25"/><circle cx="1303.2" cy="2102.8" r="6.25"/><circle cx="1306.89" cy="2268" r="6.25"/><circle cx="1308.74" cy="2164.1" r="6.25"/><circle cx="1310.59" cy="2134.5" r="6.25"/><circle cx="1312.43" cy="2131.8" r="6.25"/>
<circle cx="1314.28" cy="2103.3" r="6.25"/><circle cx="1316.13" cy="2208" r="6.25"/><circle cx="1317.97" cy="2162.2" r="6.25"/><circle cx="1319.82" cy="2098.3" r="6.25"/><circle cx="1321.67" cy="1932.2" r="6.25"/><circle cx="1323.51" cy="2194.2" r="6.25"/>
<circle cx="1325.36" cy="1989.4" r="6.25"/><circle cx="1327.21" cy="2132.1" r="6.25"/><circle cx="1329.05" cy="2191.9" r="6.25"/><circle cx="1330.9" cy="2110.6" r="6.25"/><circle cx="1332.75" cy="2105" r="6.25"/><circle cx="1334.59" cy="2220.9" r="6.25"/>
<circle cx="1336.44" cy="2196.4" r="6.25"/><circle cx="1338.29" cy="2185.9" r="6.25"/><circle cx="1340.13" cy="2158.4" r="6.25"/><circle cx="1341.98" cy="2254.4" r="6.25"/><circle cx="1343.83" cy="2048.8" r="6.25"/><circle cx="1345.67" cy="2197.3" r="6.25"/>
<circle cx="1347.52" cy="2117.1" r="6.25"/><circle cx="1351.21" cy="2155" r="6.25"/><circle cx="1353.06" cy="2159.3" r="6.25"/><circle cx="1354.91" cy="2143" r="6.25"/><circle cx="1356.75" cy="2107.3" r="6.25"/><circle cx="1358.6" cy="2190.1" r="6.25"/>
<circle cx="1360.45" cy="2234.1" r="6.25"/><circle cx="1362.29" cy="2059" r="6.25"/><circle cx="1364.14" cy="2040.3" r="6.25"/><circle cx="1365.99" cy="2268.3" r="6.25"/><circle cx="1367.83" cy="2321" r="6.25"/><circle cx="1369.68" cy="2011.9" r="6.25"/>
<circle cx="1371.53" cy="2092.3" r="6.25"/><circle cx="1373.37" cy="2067.1" r="6.25"/><circle cx="1375.22" cy="2109.9" r="6.25"/><circle cx="1377.07" cy="2207.8" r="6.25"/><circle cx="1378.91" cy="2146.3" r="6.25"/><circle cx="1380.76" cy="2334.2" r="6.25"/>
<circle cx="1382.61" cy="2277.9" r="6.25"/><circle cx="1384.45" cy="2259.6" r="6.25"/><circle cx="1386.3" cy="2199.7" r="6.25"/><circle cx="1388.15" cy="2294.8" r="6.25"/><circle cx="1389.99" cy="2397.6" r="6.25"/><circle cx="1391.84" cy="2333.2" r="6.25"/>
<circle cx="1393.69" cy="2167.3" r="6.25"/><circle cx="1395.53" cy="2184.3" r="6.25"/><circle cx="1397.38" cy="2174.7" r="6.25"/><circle cx="1399.23" cy="2210.2" r="6.25"/><circle cx="1401.07" cy="2271.9" r="6.25"/><circle cx="1402.92" cy="2103.7" r="6.25"/>
<circle cx="1404.77" cy="2106.8" r="6.25"/><circle cx="1406.61" cy="2148.4" r="6.25"/><circle cx="1408.46" cy="2146.3" r="6.25"/><circle cx="1410.31" cy="2236.3" r="6.25"/><circle cx="1412.15" cy="2201.1" r="6.25"/><circle cx="1414" cy="2303.3" r="6.25"/>
<circle cx="1414.75" cy="2311.4" r="6.25"/><circle cx="1417.69" cy="2219.6" r="6.25"/><circle cx="1419.54" cy="2240.6" r="6.25"/><circle cx="1421.39" cy="2312" r="6.25"/><circle cx="1423.23" cy="2291.1" r="6.25"/><circle cx="1425.08" cy="2326.5" r="6.25"/>
<circle cx="1426.93" cy="2379.7" r="6.25"/><circle cx="1428.77" cy="2357.1" r="6.25"/><circle cx="1430.62" cy="2256.7" r="6.25"/><circle cx="1432.47" cy="2267.6" r="6.25"/><circle cx="1434.31" cy="2182.5" r="6.25"/><circle cx="1436.16" cy="2111.1" r="6.25"/>
<circle cx="1438.01" cy="2216.3" r="6.25"/><circle cx="1439.85" cy="2158.4" r="6.25"/><circle cx="1441.7" cy="2260.3" r="6.25"/><circle cx="1443.55" cy="2101.4" r="6.25"/><circle cx="1445.39" cy="2216.7" r="6.25"/><circle cx="1447.24" cy="2306.3" r="6.25"/>
<circle cx="1449.09" cy="2189.2" r="6.25"/><circle cx="1450.93" cy="2157.5" r="6.25"/><circle cx="1452.78" cy="2169.8" r="6.25"/><circle cx="1454.62" cy="2181" r="6.25"/><circle cx="1456.47" cy="2263.4" r="6.25"/><circle cx="1458.32" cy="2200" r="6.25"/>
<circle cx="1460.16" cy="2154.4" r="6.25"/><circle cx="1462.01" cy="2277.6" r="6.25"/><circle cx="1463.86" cy="2212" r="6.25"/><circle cx="1465.7" cy="2259.4" r="6.25"/><circle cx="1467.55" cy="2248.6" r="6.25"/><circle cx="1469.4" cy="2130.9" r="6.25"/>
<circle cx="1471.24" cy="2127.8" r="6.25"/><circle cx="1473.09" cy="2221.2" r="6.25"/><circle cx="1474.94" cy="2120.4" r="6.25"/><circle cx="1476.78" cy="2271.4" r="6.25"/><circle cx="1478.63" cy="2241.7" r="6.25"/><circle cx="1480.48" cy="2231.7" r="6.25"/>
<circle cx="1482.32" cy="2218.1" r="6.25"/><circle cx="1484.17" cy="2195.5" r="6.25"/><circle cx="1486.02" cy="2179.7" r="6.25"/><circle cx="1487.86" cy="2236.6" r="6.25"/><circle cx="1489.71" cy="2206.9" r="6.25"/><circle cx="1491.56" cy="2255.5" r="6.25"/>
<circle cx="1493.4" cy="2136.7" r="6.25"/><circle cx="1495.25" cy="2155.3" r="6.25"/><circle cx="1497.1" cy="2354.9" r="6.25"/><circle cx="1498.94" cy="2472.1" r="6.25"/><circle cx="1500.79" cy="2356.2" r="6.25"/><circle cx="1502.64" cy="2243.7" r="6.25"/>
<circle cx="1504.48" cy="2290" r="6.25"/><circle cx="1506.33" cy="2078.2" r="6.25"/><circle cx="1508.18" cy="2205.5" r="6.25"/><circle cx="1510.02" cy="2233.2" r="6.25"/><circle cx="1511.87" cy="2195.5" r="6.25"/><circle cx="1513.72" cy="2264.9" r="6.25"/>
<circle cx="1517.41" cy="2220" r="6.25"/><circle cx="1519.26" cy="2175.6" r="6.25"/><circle cx="1521.1" cy="2296.6" r="6.25"/><circle cx="1522.95" cy="2248.8" r="6.25"/><circle cx="1524.8" cy="2199.7" r="6.25"/><circle cx="1526.64" cy="2281.5" r="6.25"/>
<circle cx="1528.49" cy="2198.2" r="6.25"/><circle cx="1530.34" cy="2154.1" r="6.25"/><circle cx="1532.18" cy="2233.2" r="6.25"/><circle cx="1534.03" cy="2089" r="6.25"/><circle cx="1535.88" cy="2266.7" r="6.25"/><circle cx="1537.72" cy="2362.3" r="6.25"/>
<circle cx="1537.91" cy="2256.2" r="6.25"/><circle cx="1541.42" cy="2252.6" r="6.25"/><circle cx="1543.26" cy="2287" r="6.25"/><circle cx="1545.11" cy="2287.3" r="6.25"/><circle cx="1546.96" cy="2253.5" r="6.25"/><circle cx="1548.8" cy="2224.5" r="6.25"/>
<circle cx="1552.4" cy="2270.1" r="6.25"/><circle cx="1552.5" cy="2257.1" r="6.25"/><circle cx="1554.34" cy="2329.2" r="6.25"/><circle cx="1556.19" cy="2230.8" r="6.25"/><circle cx="1558.04" cy="2187" r="6.25"/><circle cx="1559.88" cy="2260.7" r="6.25"/>
<circle cx="1561.73" cy="2315.2" r="6.25"/><circle cx="1563.58" cy="2085.1" r="6.25"/><circle cx="1565.42" cy="2199.5" r="6.25"/><circle cx="1567.27" cy="2241.1" r="6.25"/><circle cx="1569.12" cy="2378.6" r="6.25"/><circle cx="1570.96" cy="2239.5" r="6.25"/>
<circle cx="1572.81" cy="2268" r="6.25"/><circle cx="1574.66" cy="2202.4" r="6.25"/><circle cx="1576.5" cy="2161.1" r="6.25"/><circle cx="1578.35" cy="2272.8" r="6.25"/><circle cx="1580.2" cy="2329.7" r="6.25"/><circle cx="1582.04" cy="2286.2" r="6.25"/>
<circle cx="1583.89" cy="2309.6" r="6.25"/><circle cx="1585.74" cy="2315.9" r="6.25"/><circle cx="1587.58" cy="2312" r="6.25"/><circle cx="1589.43" cy="2227.2" r="6.25"/><circle cx="1591.28" cy="2293.3" r="6.25"/><circle cx="1593.12" cy="2359.4" r="6.25"/>
<circle cx="1594.97" cy="2250.2" r="6.25"/><circle cx="1596.82" cy="2287.3" r="6.25"/><circle cx="1598.66" cy="2339.5" r="6.25"/><circle cx="1600.51" cy="2357.2" r="6.25"/><circle cx="1602.36" cy="2230.8" r="6.25"/><circle cx="1604.2" cy="2346.7" r="6.25"/>
<circle cx="1606.05" cy="2301.5" r="6.25"/><circle cx="1607.9" cy="2242.2" r="6.25"/><circle cx="1609.74" cy="2326.8" r="6.25"/><circle cx="1611.59" cy="2281.9" r="6.25"/><circle cx="1613.44" cy="2271.6" r="6.25"/><circle cx="1615.28" cy="2421.2" r="6.25"/>
<circle cx="1617.13" cy="2247.1" r="6.25"/><circle cx="1618.98" cy="2311.8" r="6.25"/><circle cx="1620.82" cy="2253.1" r="6.25"/><circle cx="1622.67" cy="2284.8" r="6.25"/><circle cx="1624.52" cy="2378.6" r="6.25"/><circle cx="1626.36" cy="2430.4" r="6.25"/>
<circle cx="1628.21" cy="2309.6" r="6.25"/><circle cx="1630.06" cy="2318.7" r="6.25"/><circle cx="1631.9" cy="2285.5" r="6.25"/><circle cx="1633.75" cy="2196.4" r="6.25"/><circle cx="1635.6" cy="2206.4" r="6.25"/><circle cx="1637.44" cy="2146.3" r="6.25"/>
<circle cx="1639.29" cy="2004.3" r="6.25"/><circle cx="1641.14" cy="2256" r="6.25"/><circle cx="1642.98" cy="2243.9" r="6.25"/><circle cx="1644.83" cy="2220.5" r="6.25"/><circle cx="1646.68" cy="2230.5" r="6.25"/><circle cx="1650.37" cy="2282.8" r="6.25"/>
<circle cx="1652.22" cy="2268.9" r="6.25"/><circle cx="1654.06" cy="2244.4" r="6.25"/><circle cx="1655.91" cy="2267" r="6.25"/><circle cx="1657.76" cy="2234.1" r="6.25"/><circle cx="1659.6" cy="2242.6" r="6.25"/><circle cx="1661.45" cy="2279.4" r="6.25"/>
<circle cx="1663.3" cy="2250.7" r="6.25"/><circle cx="1665.14" cy="2288.8" r="6.25"/><circle cx="1666.99" cy="2226.8" r="6.25"/><circle cx="1668.84" cy="2261.3" r="6.25"/><circle cx="1670.68" cy="2254.7" r="6.25"/><circle cx="1672.53" cy="2308.7" r="6.25"/>
<circle cx="1674.38" cy="2243" r="6.25"/><circle cx="1676.22" cy="2362.3" r="6.25"/><circle cx="1678.07" cy="2319" r="6.25"/><circle cx="1679.92" cy="2185" r="6.25"/><circle cx="1681.76" cy="2248" r="6.25"/><circle cx="1683.61" cy="2389.5" r="6.25"/>
<circle cx="1685.46" cy="2331.7" r="6.25"/><circle cx="1687.3" cy="2355.1" r="6.25"/><circle cx="1689.15" cy="2178.7" r="6.25"/><circle cx="1691" cy="2252.2" r="6.25"/><circle cx="1692.84" cy="2316.9" r="6.25"/><circle cx="1694.69" cy="2415.6" r="6.25"/>
<circle cx="1696.54" cy="2158.2" r="6.25"/><circle cx="1698.38" cy="2318.1" r="6.25"/><circle cx="1700.23" cy="2245.3" r="6.25"/><circle cx="1702.08" cy="2209.6" r="6.25"/><circle cx="1703.92" cy="2230.8" r="6.25"/><circle cx="1709.46" cy="2223.6" r="6.25"/>
<circle cx="1711.31" cy="2206.7" r="6.25"/><circle cx="1713.16" cy="2333.2" r="6.25"/><circle cx="1715" cy="2252.9" r="6.25"/><circle cx="1716.85" cy="2370.3" r="6.25"/><circle cx="1718.7" cy="2303.3" r="6.25"/><circle cx="1720.54" cy="2387.1" r="6.25"/>
<circle cx="1722.39" cy="2234.8" r="6.25"/><circle cx="1724.23" cy="2399.8" r="6.25"/><circle cx="1726.08" cy="2311.4" r="6.25"/><circle cx="1727.93" cy="2272.8" r="6.25"/><circle cx="1729.77" cy="2224.5" r="6.25"/><circle cx="1731.62" cy="2230.5" r="6.25"/>
<circle cx="1733.47" cy="2263.1" r="6.25"/><circle cx="1735.31" cy="2300.6" r="6.25"/><circle cx="1737.16" cy="2291.5" r="6.25"/><circle cx="1739.01" cy="2429.1" r="6.25"/><circle cx="1740.85" cy="2257.1" r="6.25"/><circle cx="1742.7" cy="2226.5" r="6.25"/>
<circle cx="1744.55" cy="2168.7" r="6.25"/><circle cx="1746.39" cy="2205.5" r="6.25"/><circle cx="1748.24" cy="2207.3" r="6.25"/><circle cx="1750.09" cy="2286.6" r="6.25"/><circle cx="1751.93" cy="2271" r="6.25"/><circle cx="1753.78" cy="2304.2" r="6.25"/>
<circle cx="1755.63" cy="2174.3" r="6.25"/><circle cx="1757.47" cy="2253.5" r="6.25"/><circle cx="1759.32" cy="2264.7" r="6.25"/><circle cx="1761.17" cy="2434" r="6.25"/><circle cx="1763.01" cy="2233.5" r="6.25"/><circle cx="1764.86" cy="2285.2" r="6.25"/>
<circle cx="1766.71" cy="2232.3" r="6.25"/><circle cx="1768.55" cy="2325.5" r="6.25"/><circle cx="1770.4" cy="2249.1" r="6.25"/><circle cx="1772.25" cy="2317.8" r="6.25"/><circle cx="1774.09" cy="2272.5" r="6.25"/><circle cx="1775.94" cy="2332.2" r="6.25"/>
<circle cx="1777.79" cy="2271.6" r="6.25"/><circle cx="1779.63" cy="2287" r="6.25"/><circle cx="1781.48" cy="2364.8" r="6.25"/><circle cx="1783.33" cy="2271" r="6.25"/><circle cx="1785.17" cy="2237.5" r="6.25"/><circle cx="1787.02" cy="2331.9" r="6.25"/>
<circle cx="1788.87" cy="2172.3" r="6.25"/><circle cx="1792.56" cy="2147.7" r="6.25"/><circle cx="1794.41" cy="2144.1" r="6.25"/><circle cx="1796.25" cy="2223.2" r="6.25"/><circle cx="1798.1" cy="2186.8" r="6.25"/><circle cx="1799.95" cy="2172" r="6.25"/>
<circle cx="1801.79" cy="2107.2" r="6.25"/><circle cx="1803.64" cy="2064.4" r="6.25"/><circle cx="1805.49" cy="2167.3" r="6.25"/><circle cx="1807.33" cy="2068.8" r="6.25"/><circle cx="1809.18" cy="2120.6" r="6.25"/><circle cx="1811.03" cy="2089.9" r="6.25"/>
<circle cx="1812.87" cy="2015.3" r="6.25"/><circle cx="1814.72" cy="2215.2" r="6.25"/><circle cx="1816.57" cy="2145.2" r="6.25"/><circle cx="1818.41" cy="2238.1" r="6.25"/><circle cx="1820.26" cy="2427.3" r="6.25"/><circle cx="1822.11" cy="2423.2" r="6.25"/>
<circle cx="1823.95" cy="2200.9" r="6.25"/><circle cx="1825.8" cy="1978" r="6.25"/><circle cx="1827.65" cy="2201.8" r="6.25"/><circle cx="1829.49" cy="2222.3" r="6.25"/><circle cx="1831.34" cy="2292" r="6.25"/><circle cx="1833.19" cy="2251.3" r="6.25"/>
<circle cx="1835.03" cy="2277.2" r="6.25"/><circle cx="1836.88" cy="2232.3" r="6.25"/><circle cx="1838.73" cy="2240.2" r="6.25"/><circle cx="1840.57" cy="2292" r="6.25"/><circle cx="1842.42" cy="2099.4" r="6.25"/><circle cx="1844.27" cy="2210.9" r="6.25"/>
<circle cx="1846.11" cy="2185.2" r="6.25"/><circle cx="1849.23" cy="2207.3" r="6.25"/><circle cx="1849.81" cy="2005.4" r="6.25"/><circle cx="1851.65" cy="2138.1" r="6.25"/>
</g>
<path class="fv" d="M226 1844V2488.1M1883.5 1844V2488.1"/><path class="fh" d="M222.88 1847.4H1886.62M222.88 2484.95H1886.62"/>
<text class="b" font-size="42.6" text-anchor="middle" transform="translate(258 2551.5) scale(1 1.03)">0</text>
<text class="b" font-size="42.6" text-anchor="middle" transform="translate(390.96 2551.5) scale(1 1.03)">6</text>
<text class="b" font-size="42.6" text-anchor="middle" transform="translate(523.92 2551.5) scale(1 1.03)">12</text>
<text class="b" font-size="42.6" text-anchor="middle" transform="translate(656.88 2551.5) scale(1 1.03)">18</text>
<text class="b" font-size="42.6" text-anchor="middle" transform="translate(789.83 2551.5) scale(1 1.03)">24</text>
<text class="b" font-size="42.6" text-anchor="middle" transform="translate(922.79 2551.5) scale(1 1.03)">30</text>
<text class="b" font-size="42.6" text-anchor="middle" transform="translate(1055.75 2551.5) scale(1 1.03)">36</text>
<text class="b" font-size="42.6" text-anchor="middle" transform="translate(1188.71 2551.5) scale(1 1.03)">42</text>
<text class="b" font-size="42.6" text-anchor="middle" transform="translate(1321.67 2551.5) scale(1 1.03)">48</text>
<text class="b" font-size="42.6" text-anchor="middle" transform="translate(1454.62 2551.5) scale(1 1.03)">54</text>
<text class="b" font-size="42.6" text-anchor="middle" transform="translate(1587.58 2551.5) scale(1 1.03)">60</text>
<text class="b" font-size="42.6" text-anchor="middle" transform="translate(1720.54 2551.5) scale(1 1.03)">66</text>
<text class="b" font-size="42.6" text-anchor="middle" transform="translate(1853.5 2551.5) scale(1 1.03)">72</text>
<text class="b" font-size="42.6" text-anchor="end" transform="translate(190.8 1907.2) scale(1 1.03)">60</text>
<text class="b" font-size="42.6" text-anchor="end" transform="translate(190.8 2018.3) scale(1 1.03)">40</text>
<text class="b" font-size="42.6" text-anchor="end" transform="translate(190.8 2130.1) scale(1 1.03)">20</text>
<text class="b" font-size="42.6" text-anchor="end" transform="translate(190.8 2241.8) scale(1 1.03)">0</text>
<text class="b" font-size="42.6" text-anchor="end" transform="translate(190.8 2353.3) scale(1 1.03)"><tspan dx="0" dy="4.7">−</tspan><tspan dx="-0.3" dy="-4.7">20</tspan></text>
<text class="b" font-size="42.6" text-anchor="end" transform="translate(190.8 2465) scale(1 1.03)"><tspan dx="0" dy="4.7">−</tspan><tspan dx="-0.3" dy="-4.7">40</tspan></text>
<text font-size="42.55" text-anchor="middle" transform="translate(89.9 2165.8) rotate(-90) scale(1 1.03)">Up (mm)</text>
</g>
<text font-size="42.55" text-anchor="middle" transform="translate(1054.4 2609.9) scale(1 1.03)">Time (hours since beginning of first day UTC)</text>
<path class="fv" d="M226 2711V2870M1883.5 2711V2870"/><path class="fh" d="M222.88 2714.3H1886.62M222.88 2867.2H1886.62"/>
<text class="b" font-size="42.65" text-anchor="middle" transform="translate(1055 2753) scale(1 1.03)">Processed Using JPL Rapid Orbits</text>
<text class="b" font-size="42.65" text-anchor="middle" transform="translate(1055 2793.45) scale(1 1.03)">by the Nevada Geodetic Laboratory.</text>
<text class="b" font-size="42.65" text-anchor="middle" transform="translate(1055 2833.9) scale(1 1.03)">Plotted on 2026-Jan-11.</text>
</svg>
</body>
</html>
